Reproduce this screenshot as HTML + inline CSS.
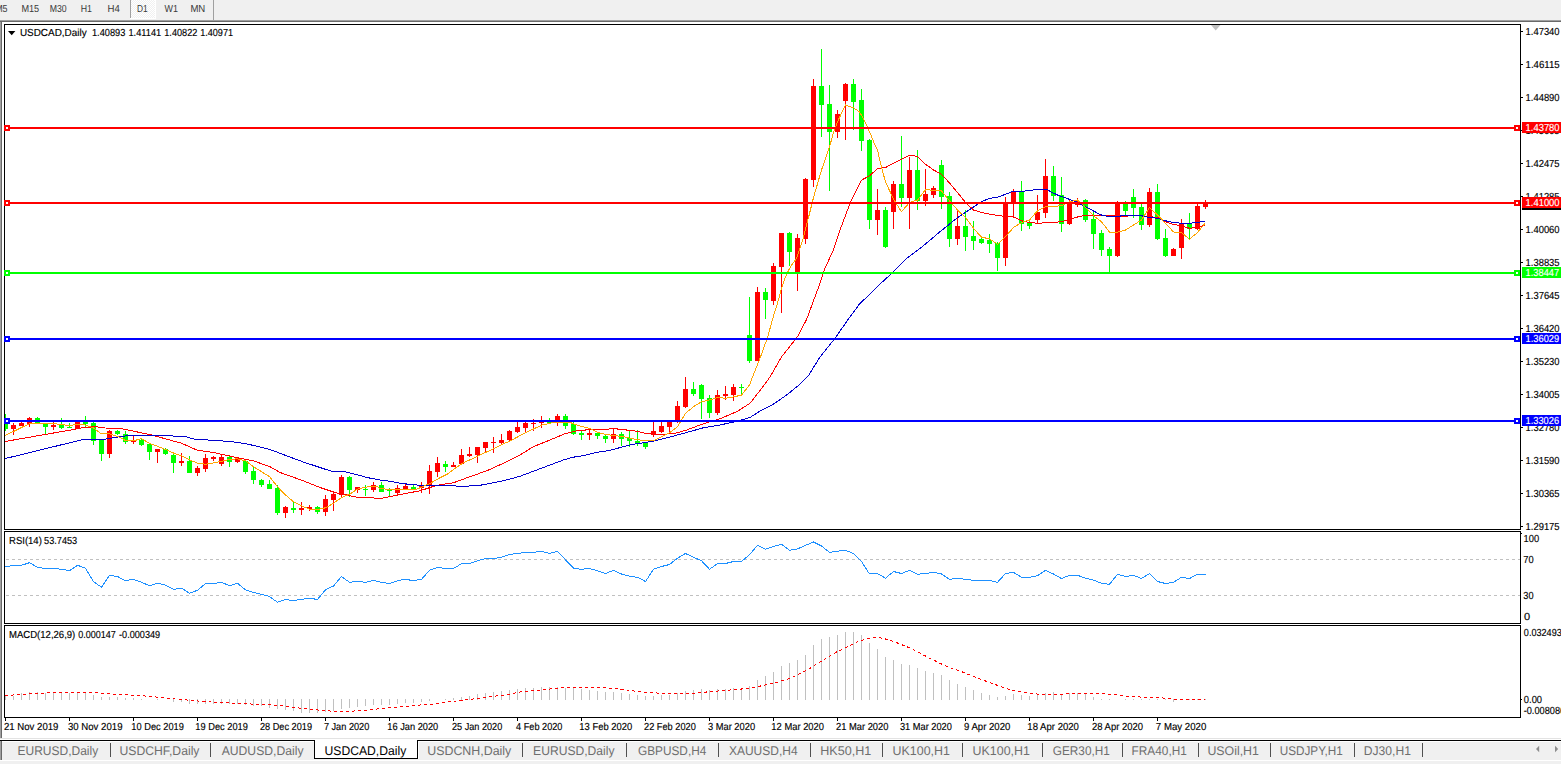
<!DOCTYPE html>
<html><head><meta charset="utf-8"><title>USDCAD,Daily</title>
<style>
html,body{margin:0;padding:0;background:#fff;overflow:hidden}
body{width:1561px;height:764px;font-family:"Liberation Sans",sans-serif}
svg{display:block;font-family:"Liberation Sans",sans-serif}
text{white-space:pre;text-rendering:geometricPrecision}
</style></head><body>
<svg width="1561" height="764" viewBox="0 0 1561 764">
<rect x="0" y="0" width="1561" height="764" fill="#ffffff"/>
<rect x="0" y="0" width="1561" height="20" fill="#f0f0f0"/>
<rect x="0" y="20" width="1561" height="1" fill="#a0a0a0"/>
<rect x="0" y="21" width="1561" height="1" fill="#696969"/>
<rect x="0" y="22" width="1" height="717" fill="#a0a0a0"/>
<rect x="1" y="22" width="1" height="717" fill="#696969"/>
<rect x="130" y="0" width="1" height="18" fill="#a0a0a0"/>
<pattern id="chk" width="2" height="2" patternUnits="userSpaceOnUse"><rect width="2" height="2" fill="#f0f0f0"/><rect width="1" height="1" fill="#fff"/><rect x="1" y="1" width="1" height="1" fill="#fff"/></pattern>
<rect x="131" y="0" width="24" height="18" fill="url(#chk)" shape-rendering="crispEdges"/>
<rect x="155" y="0" width="1" height="19" fill="#fff"/>
<rect x="130" y="18" width="26" height="1" fill="#fff"/>
<rect x="213" y="0" width="1" height="20" fill="#a0a0a0"/>
<text x="-4.80" y="12" font-size="10.2" fill="#3a3a3a" textLength="12.37" lengthAdjust="spacingAndGlyphs">M5</text>
<text x="21.40" y="12" font-size="10.2" fill="#3a3a3a" textLength="17.77" lengthAdjust="spacingAndGlyphs">M15</text>
<text x="49.76" y="12" font-size="10.2" fill="#3a3a3a" textLength="16.96" lengthAdjust="spacingAndGlyphs">M30</text>
<text x="80.66" y="12" font-size="10.2" fill="#3a3a3a" textLength="11.21" lengthAdjust="spacingAndGlyphs">H1</text>
<text x="107.60" y="12" font-size="10.2" fill="#3a3a3a" textLength="12.30" lengthAdjust="spacingAndGlyphs">H4</text>
<text x="137.00" y="12" font-size="10.2" fill="#3a3a3a" textLength="10.70" lengthAdjust="spacingAndGlyphs">D1</text>
<text x="164.59" y="12" font-size="10.2" fill="#3a3a3a" textLength="13.43" lengthAdjust="spacingAndGlyphs">W1</text>
<text x="190.40" y="12" font-size="10.2" fill="#3a3a3a" textLength="14.89" lengthAdjust="spacingAndGlyphs">MN</text>
<rect x="4" y="24" width="1517" height="1" fill="#000"/>
<rect x="4" y="529" width="1517" height="1" fill="#000"/>
<rect x="4" y="24" width="1" height="506" fill="#000"/>
<rect x="1520" y="24" width="1" height="506" fill="#000"/>
<rect x="4" y="531" width="1517" height="1" fill="#000"/>
<rect x="4" y="623" width="1517" height="1" fill="#000"/>
<rect x="4" y="531" width="1" height="93" fill="#000"/>
<rect x="1520" y="531" width="1" height="93" fill="#000"/>
<rect x="4" y="625" width="1517" height="1" fill="#000"/>
<rect x="4" y="717" width="1517" height="1" fill="#000"/>
<rect x="4" y="625" width="1" height="93" fill="#000"/>
<rect x="1520" y="625" width="1" height="93" fill="#000"/>
<polygon points="1211,25 1220.5,25 1215.7,30.5" fill="#c0c0c0"/>
<clipPath id="cm"><rect x="5" y="25" width="1515" height="504"/></clipPath>
<g clip-path="url(#cm)" shape-rendering="crispEdges">
<rect x="5" y="414" width="1" height="17" fill="#00ff00"/>
<rect x="3" y="421" width="5" height="8" fill="#00ff00"/>
<rect x="13" y="423" width="1" height="12" fill="#ff0000"/>
<rect x="11" y="425" width="5" height="4" fill="#ff0000"/>
<rect x="21" y="422" width="1" height="4" fill="#ff0000"/>
<rect x="19" y="423" width="5" height="3" fill="#ff0000"/>
<rect x="29" y="417" width="1" height="10" fill="#ff0000"/>
<rect x="27" y="418" width="5" height="6" fill="#ff0000"/>
<rect x="37" y="417" width="1" height="7" fill="#00ff00"/>
<rect x="35" y="418" width="5" height="6" fill="#00ff00"/>
<rect x="45" y="424" width="1" height="10" fill="#00ff00"/>
<rect x="43" y="424" width="5" height="3" fill="#00ff00"/>
<rect x="53" y="422" width="1" height="8" fill="#ff0000"/>
<rect x="51" y="425" width="5" height="2" fill="#ff0000"/>
<rect x="61" y="418" width="1" height="11" fill="#00ff00"/>
<rect x="59" y="424" width="5" height="4" fill="#00ff00"/>
<rect x="69" y="423" width="1" height="5" fill="#00ff00"/>
<rect x="67" y="427" width="5" height="1" fill="#00ff00"/>
<rect x="77" y="421" width="1" height="8" fill="#ff0000"/>
<rect x="75" y="421" width="5" height="8" fill="#ff0000"/>
<rect x="85" y="416" width="1" height="11" fill="#00ff00"/>
<rect x="83" y="422" width="5" height="2" fill="#00ff00"/>
<rect x="93" y="422" width="1" height="23" fill="#00ff00"/>
<rect x="91" y="423" width="5" height="18" fill="#00ff00"/>
<rect x="101" y="440" width="1" height="21" fill="#00ff00"/>
<rect x="99" y="440" width="5" height="14" fill="#00ff00"/>
<rect x="109" y="430" width="1" height="28" fill="#ff0000"/>
<rect x="107" y="431" width="5" height="23" fill="#ff0000"/>
<rect x="117" y="430" width="1" height="5" fill="#00ff00"/>
<rect x="115" y="431" width="5" height="3" fill="#00ff00"/>
<rect x="125" y="431" width="1" height="13" fill="#00ff00"/>
<rect x="123" y="434" width="5" height="8" fill="#00ff00"/>
<rect x="133" y="436" width="1" height="8" fill="#ff0000"/>
<rect x="131" y="440" width="5" height="2" fill="#ff0000"/>
<rect x="141" y="438" width="1" height="8" fill="#00ff00"/>
<rect x="139" y="440" width="5" height="5" fill="#00ff00"/>
<rect x="149" y="444" width="1" height="16" fill="#00ff00"/>
<rect x="147" y="444" width="5" height="8" fill="#00ff00"/>
<rect x="157" y="449" width="1" height="14" fill="#ff0000"/>
<rect x="155" y="449" width="5" height="3" fill="#ff0000"/>
<rect x="165" y="448" width="1" height="7" fill="#00ff00"/>
<rect x="163" y="449" width="5" height="5" fill="#00ff00"/>
<rect x="173" y="452" width="1" height="21" fill="#00ff00"/>
<rect x="171" y="455" width="5" height="8" fill="#00ff00"/>
<rect x="181" y="453" width="1" height="13" fill="#ff0000"/>
<rect x="179" y="461" width="5" height="2" fill="#ff0000"/>
<rect x="189" y="456" width="1" height="17" fill="#00ff00"/>
<rect x="187" y="461" width="5" height="12" fill="#00ff00"/>
<rect x="197" y="466" width="1" height="10" fill="#ff0000"/>
<rect x="195" y="468" width="5" height="5" fill="#ff0000"/>
<rect x="205" y="454" width="1" height="18" fill="#ff0000"/>
<rect x="203" y="458" width="5" height="11" fill="#ff0000"/>
<rect x="213" y="456" width="1" height="5" fill="#ff0000"/>
<rect x="211" y="457" width="5" height="2" fill="#ff0000"/>
<rect x="221" y="455" width="1" height="11" fill="#ff0000"/>
<rect x="219" y="457" width="5" height="7" fill="#ff0000"/>
<rect x="229" y="456" width="1" height="11" fill="#00ff00"/>
<rect x="227" y="457" width="5" height="5" fill="#00ff00"/>
<rect x="237" y="457" width="1" height="6" fill="#ff0000"/>
<rect x="235" y="458" width="5" height="4" fill="#ff0000"/>
<rect x="245" y="460" width="1" height="14" fill="#00ff00"/>
<rect x="243" y="461" width="5" height="11" fill="#00ff00"/>
<rect x="253" y="467" width="1" height="17" fill="#00ff00"/>
<rect x="251" y="471" width="5" height="9" fill="#00ff00"/>
<rect x="261" y="479" width="1" height="8" fill="#00ff00"/>
<rect x="259" y="480" width="5" height="5" fill="#00ff00"/>
<rect x="269" y="480" width="1" height="9" fill="#00ff00"/>
<rect x="267" y="484" width="5" height="5" fill="#00ff00"/>
<rect x="277" y="485" width="1" height="30" fill="#00ff00"/>
<rect x="275" y="488" width="5" height="25" fill="#00ff00"/>
<rect x="285" y="506" width="1" height="12" fill="#ff0000"/>
<rect x="283" y="507" width="5" height="6" fill="#ff0000"/>
<rect x="293" y="501" width="1" height="12" fill="#00ff00"/>
<rect x="291" y="508" width="5" height="2" fill="#00ff00"/>
<rect x="301" y="502" width="1" height="13" fill="#ff0000"/>
<rect x="299" y="508" width="5" height="2" fill="#ff0000"/>
<rect x="309" y="505" width="1" height="6" fill="#ff0000"/>
<rect x="307" y="507" width="5" height="2" fill="#ff0000"/>
<rect x="317" y="506" width="1" height="8" fill="#00ff00"/>
<rect x="315" y="507" width="5" height="5" fill="#00ff00"/>
<rect x="325" y="495" width="1" height="21" fill="#ff0000"/>
<rect x="323" y="499" width="5" height="13" fill="#ff0000"/>
<rect x="333" y="492" width="1" height="19" fill="#ff0000"/>
<rect x="331" y="494" width="5" height="6" fill="#ff0000"/>
<rect x="341" y="475" width="1" height="23" fill="#ff0000"/>
<rect x="339" y="477" width="5" height="18" fill="#ff0000"/>
<rect x="349" y="476" width="1" height="21" fill="#00ff00"/>
<rect x="347" y="477" width="5" height="13" fill="#00ff00"/>
<rect x="357" y="487" width="1" height="6" fill="#ff0000"/>
<rect x="355" y="487" width="5" height="3" fill="#ff0000"/>
<rect x="365" y="485" width="1" height="11" fill="#00ff00"/>
<rect x="363" y="489" width="5" height="1" fill="#00ff00"/>
<rect x="373" y="482" width="1" height="10" fill="#ff0000"/>
<rect x="371" y="485" width="5" height="5" fill="#ff0000"/>
<rect x="381" y="482" width="1" height="10" fill="#00ff00"/>
<rect x="379" y="485" width="5" height="7" fill="#00ff00"/>
<rect x="389" y="488" width="1" height="8" fill="#00ff00"/>
<rect x="387" y="490" width="5" height="1" fill="#00ff00"/>
<rect x="397" y="485" width="1" height="11" fill="#ff0000"/>
<rect x="395" y="488" width="5" height="5" fill="#ff0000"/>
<rect x="405" y="483" width="1" height="6" fill="#ff0000"/>
<rect x="403" y="486" width="5" height="3" fill="#ff0000"/>
<rect x="413" y="485" width="1" height="5" fill="#00ff00"/>
<rect x="411" y="487" width="5" height="2" fill="#00ff00"/>
<rect x="421" y="482" width="1" height="11" fill="#ff0000"/>
<rect x="419" y="485" width="5" height="3" fill="#ff0000"/>
<rect x="429" y="465" width="1" height="29" fill="#ff0000"/>
<rect x="427" y="471" width="5" height="15" fill="#ff0000"/>
<rect x="437" y="457" width="1" height="20" fill="#ff0000"/>
<rect x="435" y="463" width="5" height="9" fill="#ff0000"/>
<rect x="445" y="461" width="1" height="11" fill="#00ff00"/>
<rect x="443" y="464" width="5" height="3" fill="#00ff00"/>
<rect x="453" y="462" width="1" height="5" fill="#ff0000"/>
<rect x="451" y="465" width="5" height="2" fill="#ff0000"/>
<rect x="461" y="449" width="1" height="15" fill="#ff0000"/>
<rect x="459" y="455" width="5" height="9" fill="#ff0000"/>
<rect x="469" y="447" width="1" height="10" fill="#ff0000"/>
<rect x="467" y="454" width="5" height="2" fill="#ff0000"/>
<rect x="477" y="447" width="1" height="16" fill="#ff0000"/>
<rect x="475" y="447" width="5" height="8" fill="#ff0000"/>
<rect x="485" y="442" width="1" height="10" fill="#ff0000"/>
<rect x="483" y="442" width="5" height="6" fill="#ff0000"/>
<rect x="493" y="437" width="1" height="16" fill="#ff0000"/>
<rect x="491" y="442" width="5" height="1" fill="#ff0000"/>
<rect x="501" y="434" width="1" height="11" fill="#ff0000"/>
<rect x="499" y="440" width="5" height="3" fill="#ff0000"/>
<rect x="509" y="430" width="1" height="11" fill="#ff0000"/>
<rect x="507" y="431" width="5" height="9" fill="#ff0000"/>
<rect x="517" y="422" width="1" height="11" fill="#ff0000"/>
<rect x="515" y="427" width="5" height="5" fill="#ff0000"/>
<rect x="525" y="422" width="1" height="11" fill="#ff0000"/>
<rect x="523" y="423" width="5" height="5" fill="#ff0000"/>
<rect x="533" y="419" width="1" height="12" fill="#ff0000"/>
<rect x="531" y="423" width="5" height="1" fill="#ff0000"/>
<rect x="541" y="416" width="1" height="12" fill="#ff0000"/>
<rect x="539" y="422" width="5" height="1" fill="#ff0000"/>
<rect x="549" y="418" width="1" height="6" fill="#00ff00"/>
<rect x="547" y="420" width="5" height="3" fill="#00ff00"/>
<rect x="557" y="414" width="1" height="12" fill="#ff0000"/>
<rect x="555" y="416" width="5" height="6" fill="#ff0000"/>
<rect x="565" y="414" width="1" height="15" fill="#00ff00"/>
<rect x="563" y="416" width="5" height="10" fill="#00ff00"/>
<rect x="573" y="422" width="1" height="13" fill="#00ff00"/>
<rect x="571" y="424" width="5" height="10" fill="#00ff00"/>
<rect x="581" y="431" width="1" height="9" fill="#00ff00"/>
<rect x="579" y="433" width="5" height="2" fill="#00ff00"/>
<rect x="589" y="428" width="1" height="12" fill="#ff0000"/>
<rect x="587" y="433" width="5" height="2" fill="#ff0000"/>
<rect x="597" y="432" width="1" height="7" fill="#00ff00"/>
<rect x="595" y="433" width="5" height="3" fill="#00ff00"/>
<rect x="605" y="435" width="1" height="8" fill="#00ff00"/>
<rect x="603" y="436" width="5" height="3" fill="#00ff00"/>
<rect x="613" y="428" width="1" height="15" fill="#ff0000"/>
<rect x="611" y="434" width="5" height="5" fill="#ff0000"/>
<rect x="621" y="432" width="1" height="14" fill="#00ff00"/>
<rect x="619" y="434" width="5" height="5" fill="#00ff00"/>
<rect x="629" y="431" width="1" height="16" fill="#00ff00"/>
<rect x="627" y="438" width="5" height="3" fill="#00ff00"/>
<rect x="637" y="430" width="1" height="16" fill="#00ff00"/>
<rect x="635" y="441" width="5" height="2" fill="#00ff00"/>
<rect x="645" y="442" width="1" height="7" fill="#00ff00"/>
<rect x="643" y="443" width="5" height="4" fill="#00ff00"/>
<rect x="653" y="422" width="1" height="15" fill="#ff0000"/>
<rect x="651" y="431" width="5" height="4" fill="#ff0000"/>
<rect x="661" y="422" width="1" height="11" fill="#ff0000"/>
<rect x="659" y="426" width="5" height="6" fill="#ff0000"/>
<rect x="669" y="420" width="1" height="12" fill="#ff0000"/>
<rect x="667" y="421" width="5" height="6" fill="#ff0000"/>
<rect x="677" y="401" width="1" height="22" fill="#ff0000"/>
<rect x="675" y="406" width="5" height="16" fill="#ff0000"/>
<rect x="685" y="377" width="1" height="31" fill="#ff0000"/>
<rect x="683" y="389" width="5" height="18" fill="#ff0000"/>
<rect x="693" y="382" width="1" height="14" fill="#00ff00"/>
<rect x="691" y="389" width="5" height="5" fill="#00ff00"/>
<rect x="701" y="384" width="1" height="35" fill="#00ff00"/>
<rect x="699" y="385" width="5" height="14" fill="#00ff00"/>
<rect x="709" y="395" width="1" height="23" fill="#00ff00"/>
<rect x="707" y="398" width="5" height="15" fill="#00ff00"/>
<rect x="717" y="390" width="1" height="25" fill="#ff0000"/>
<rect x="715" y="395" width="5" height="18" fill="#ff0000"/>
<rect x="725" y="386" width="1" height="14" fill="#ff0000"/>
<rect x="723" y="394" width="5" height="2" fill="#ff0000"/>
<rect x="733" y="384" width="1" height="17" fill="#ff0000"/>
<rect x="731" y="387" width="5" height="8" fill="#ff0000"/>
<rect x="741" y="384" width="1" height="10" fill="#00ff00"/>
<rect x="739" y="387" width="5" height="1" fill="#00ff00"/>
<rect x="749" y="297" width="1" height="66" fill="#00ff00"/>
<rect x="747" y="335" width="5" height="26" fill="#00ff00"/>
<rect x="757" y="287" width="1" height="74" fill="#ff0000"/>
<rect x="755" y="292" width="5" height="69" fill="#ff0000"/>
<rect x="765" y="288" width="1" height="31" fill="#00ff00"/>
<rect x="763" y="292" width="5" height="8" fill="#00ff00"/>
<rect x="773" y="263" width="1" height="42" fill="#ff0000"/>
<rect x="771" y="266" width="5" height="35" fill="#ff0000"/>
<rect x="781" y="233" width="1" height="80" fill="#ff0000"/>
<rect x="779" y="233" width="5" height="34" fill="#ff0000"/>
<rect x="789" y="232" width="1" height="34" fill="#00ff00"/>
<rect x="787" y="233" width="5" height="19" fill="#00ff00"/>
<rect x="797" y="234" width="1" height="57" fill="#ff0000"/>
<rect x="795" y="238" width="5" height="35" fill="#ff0000"/>
<rect x="805" y="178" width="1" height="66" fill="#ff0000"/>
<rect x="803" y="179" width="5" height="60" fill="#ff0000"/>
<rect x="813" y="79" width="1" height="108" fill="#ff0000"/>
<rect x="811" y="86" width="5" height="94" fill="#ff0000"/>
<rect x="821" y="49" width="1" height="88" fill="#00ff00"/>
<rect x="819" y="86" width="5" height="19" fill="#00ff00"/>
<rect x="829" y="85" width="1" height="106" fill="#00ff00"/>
<rect x="827" y="104" width="5" height="28" fill="#00ff00"/>
<rect x="837" y="110" width="1" height="28" fill="#ff0000"/>
<rect x="835" y="114" width="5" height="18" fill="#ff0000"/>
<rect x="845" y="83" width="1" height="57" fill="#ff0000"/>
<rect x="843" y="84" width="5" height="17" fill="#ff0000"/>
<rect x="853" y="79" width="1" height="51" fill="#00ff00"/>
<rect x="851" y="84" width="5" height="18" fill="#00ff00"/>
<rect x="861" y="89" width="1" height="62" fill="#00ff00"/>
<rect x="859" y="100" width="5" height="41" fill="#00ff00"/>
<rect x="869" y="139" width="1" height="90" fill="#00ff00"/>
<rect x="867" y="140" width="5" height="80" fill="#00ff00"/>
<rect x="877" y="189" width="1" height="46" fill="#ff0000"/>
<rect x="875" y="210" width="5" height="10" fill="#ff0000"/>
<rect x="885" y="207" width="1" height="41" fill="#00ff00"/>
<rect x="883" y="210" width="5" height="37" fill="#00ff00"/>
<rect x="893" y="181" width="1" height="48" fill="#ff0000"/>
<rect x="891" y="184" width="5" height="28" fill="#ff0000"/>
<rect x="901" y="136" width="1" height="71" fill="#00ff00"/>
<rect x="899" y="184" width="5" height="14" fill="#00ff00"/>
<rect x="909" y="157" width="1" height="72" fill="#ff0000"/>
<rect x="907" y="170" width="5" height="28" fill="#ff0000"/>
<rect x="917" y="150" width="1" height="60" fill="#00ff00"/>
<rect x="915" y="170" width="5" height="31" fill="#00ff00"/>
<rect x="925" y="169" width="1" height="37" fill="#ff0000"/>
<rect x="923" y="194" width="5" height="7" fill="#ff0000"/>
<rect x="933" y="186" width="1" height="12" fill="#ff0000"/>
<rect x="931" y="188" width="5" height="7" fill="#ff0000"/>
<rect x="941" y="160" width="1" height="49" fill="#00ff00"/>
<rect x="939" y="165" width="5" height="32" fill="#00ff00"/>
<rect x="949" y="192" width="1" height="55" fill="#00ff00"/>
<rect x="947" y="196" width="5" height="43" fill="#00ff00"/>
<rect x="957" y="210" width="1" height="35" fill="#ff0000"/>
<rect x="955" y="226" width="5" height="13" fill="#ff0000"/>
<rect x="965" y="210" width="1" height="41" fill="#00ff00"/>
<rect x="963" y="226" width="5" height="11" fill="#00ff00"/>
<rect x="973" y="221" width="1" height="29" fill="#00ff00"/>
<rect x="971" y="236" width="5" height="5" fill="#00ff00"/>
<rect x="981" y="238" width="1" height="6" fill="#00ff00"/>
<rect x="979" y="239" width="5" height="4" fill="#00ff00"/>
<rect x="989" y="234" width="1" height="19" fill="#00ff00"/>
<rect x="987" y="240" width="5" height="4" fill="#00ff00"/>
<rect x="997" y="242" width="1" height="29" fill="#00ff00"/>
<rect x="995" y="243" width="5" height="15" fill="#00ff00"/>
<rect x="1005" y="197" width="1" height="69" fill="#ff0000"/>
<rect x="1003" y="203" width="5" height="55" fill="#ff0000"/>
<rect x="1013" y="189" width="1" height="29" fill="#ff0000"/>
<rect x="1011" y="192" width="5" height="12" fill="#ff0000"/>
<rect x="1021" y="181" width="1" height="50" fill="#00ff00"/>
<rect x="1019" y="192" width="5" height="32" fill="#00ff00"/>
<rect x="1029" y="221" width="1" height="8" fill="#00ff00"/>
<rect x="1027" y="223" width="5" height="3" fill="#00ff00"/>
<rect x="1037" y="195" width="1" height="29" fill="#ff0000"/>
<rect x="1035" y="212" width="5" height="8" fill="#ff0000"/>
<rect x="1045" y="159" width="1" height="59" fill="#ff0000"/>
<rect x="1043" y="176" width="5" height="37" fill="#ff0000"/>
<rect x="1053" y="166" width="1" height="35" fill="#00ff00"/>
<rect x="1051" y="176" width="5" height="20" fill="#00ff00"/>
<rect x="1061" y="177" width="1" height="55" fill="#00ff00"/>
<rect x="1059" y="195" width="5" height="29" fill="#00ff00"/>
<rect x="1069" y="200" width="1" height="25" fill="#ff0000"/>
<rect x="1067" y="203" width="5" height="21" fill="#ff0000"/>
<rect x="1077" y="198" width="1" height="9" fill="#ff0000"/>
<rect x="1075" y="201" width="5" height="4" fill="#ff0000"/>
<rect x="1085" y="199" width="1" height="23" fill="#00ff00"/>
<rect x="1083" y="200" width="5" height="20" fill="#00ff00"/>
<rect x="1093" y="212" width="1" height="37" fill="#00ff00"/>
<rect x="1091" y="219" width="5" height="15" fill="#00ff00"/>
<rect x="1101" y="230" width="1" height="26" fill="#00ff00"/>
<rect x="1099" y="233" width="5" height="17" fill="#00ff00"/>
<rect x="1109" y="247" width="1" height="26" fill="#00ff00"/>
<rect x="1107" y="249" width="5" height="7" fill="#00ff00"/>
<rect x="1117" y="201" width="1" height="56" fill="#ff0000"/>
<rect x="1115" y="203" width="5" height="53" fill="#ff0000"/>
<rect x="1125" y="201" width="1" height="14" fill="#00ff00"/>
<rect x="1123" y="204" width="5" height="7" fill="#00ff00"/>
<rect x="1133" y="189" width="1" height="29" fill="#00ff00"/>
<rect x="1131" y="197" width="5" height="11" fill="#00ff00"/>
<rect x="1141" y="204" width="1" height="26" fill="#00ff00"/>
<rect x="1139" y="207" width="5" height="18" fill="#00ff00"/>
<rect x="1149" y="188" width="1" height="39" fill="#ff0000"/>
<rect x="1147" y="192" width="5" height="33" fill="#ff0000"/>
<rect x="1157" y="184" width="1" height="56" fill="#00ff00"/>
<rect x="1155" y="192" width="5" height="47" fill="#00ff00"/>
<rect x="1165" y="229" width="1" height="28" fill="#00ff00"/>
<rect x="1163" y="238" width="5" height="18" fill="#00ff00"/>
<rect x="1173" y="248" width="1" height="8" fill="#ff0000"/>
<rect x="1171" y="249" width="5" height="7" fill="#ff0000"/>
<rect x="1181" y="219" width="1" height="40" fill="#ff0000"/>
<rect x="1179" y="223" width="5" height="25" fill="#ff0000"/>
<rect x="1189" y="213" width="1" height="27" fill="#00ff00"/>
<rect x="1187" y="223" width="5" height="6" fill="#00ff00"/>
<rect x="1197" y="204" width="1" height="26" fill="#ff0000"/>
<rect x="1195" y="206" width="5" height="23" fill="#ff0000"/>
<rect x="1205" y="200" width="1" height="9" fill="#ff0000"/>
<rect x="1203" y="202" width="5" height="5" fill="#ff0000"/>
<polyline points="5.0,441.5 77.0,428.9 85.0,427.2 97.0,426.8 105.0,428.0 120.0,428.3 151.7,435.0 181.7,443.3 196.7,450.0 213.3,452.5 236.7,457.5 253.3,460.8 270.0,466.7 280.0,472.5 303.3,480.8 320.0,487.5 335.0,492.5 356.7,497.2 370.0,497.5 380.0,498.7 397.5,495.0 420.0,490.8 436.7,485.3 453.3,482.8 470.0,476.7 486.7,470.8 503.3,463.3 520.0,455.0 533.3,446.7 550.0,440.0 565.0,433.7 578.7,430.4 585.0,430.4 586.0,429.4 608.5,429.4 609.5,428.5 617.3,428.5 618.0,429.4 626.0,429.4 627.0,430.4 632.0,430.7 636.7,431.2 645.0,433.3 661.7,434.5 675.0,433.3 686.7,430.0 703.3,423.8 720.0,418.7 736.7,411.7 750.0,403.3 761.7,388.3 770.0,377.0 781.7,356.7 797.5,336.7 806.7,319.2 815.0,296.7 820.0,283.3 825.0,268.3 833.3,250.0 840.0,230.0 850.0,203.3 861.7,180.0 869.5,175.8 877.5,168.7 885.5,167.5 893.5,163.3 901.5,159.2 909.5,155.3 917.5,156.3 925.5,164.2 933.5,170.0 941.5,174.2 949.5,183.0 957.5,192.5 965.5,202.5 973.5,210.0 981.5,212.5 989.5,214.2 997.5,215.3 1005.5,216.7 1013.5,216.7 1021.5,220.8 1029.5,222.5 1037.5,223.3 1045.5,222.8 1053.5,222.5 1061.5,221.7 1069.5,219.2 1077.5,217.0 1085.5,215.3 1109.5,215.3 1117.5,215.8 1125.5,216.3 1133.5,215.5 1141.5,215.8 1149.5,216.7 1157.5,217.5 1165.5,221.7 1173.5,224.5 1181.5,225.8 1189.5,228.3 1197.5,227.5 1204.9,225.2" fill="none" stroke="#ff0000" stroke-width="1"/>
<polyline points="5.0,458.6 83.5,439.4 104.0,439.3 120.0,436.7 128.3,435.5 169.0,435.5 177.8,436.5 187.0,437.0 192.0,438.5 196.0,439.7 203.0,439.7 218.0,440.7 230.0,441.5 238.0,442.6 245.0,443.6 250.0,444.7 254.0,445.5 258.0,446.6 270.0,449.5 286.7,455.8 303.3,462.0 320.0,467.5 326.0,469.5 332.0,471.3 343.8,471.3 348.0,472.5 352.0,473.4 356.0,474.4 360.0,475.5 364.0,476.5 367.0,477.6 372.0,478.4 377.5,479.4 382.0,480.5 386.7,480.8 403.3,483.7 420.0,485.3 450.0,485.8 465.0,486.3 480.0,485.3 503.3,480.8 520.0,476.3 536.7,470.0 553.3,463.8 563.6,459.9 572.0,457.4 580.4,456.1 588.8,454.4 597.1,452.3 605.5,451.1 613.9,449.4 622.3,446.9 630.6,444.8 636.7,443.8 653.3,441.2 670.0,437.0 686.7,432.5 703.3,427.8 720.0,425.0 736.7,421.3 750.0,417.5 761.7,410.0 773.3,404.2 786.7,395.0 800.0,384.2 808.3,375.8 820.0,357.0 835.0,338.3 848.3,319.2 860.0,303.3 866.7,297.2 881.7,282.5 890.0,275.0 898.3,266.7 906.7,258.3 923.3,245.8 940.0,231.7 956.7,218.3 973.3,207.2 981.7,201.7 989.5,198.3 997.5,197.2 1000.0,196.6 1005.0,194.3 1011.7,191.9 1013.0,191.3 1024.5,191.3 1025.5,190.3 1032.5,190.3 1033.5,189.4 1046.9,189.4 1050.0,191.4 1058.6,195.5 1067.0,198.5 1075.4,201.4 1083.8,206.0 1092.1,210.2 1100.5,214.8 1106.4,216.0 1120.6,216.0 1121.5,215.5 1133.5,215.3 1141.5,215.8 1149.5,217.5 1157.5,218.3 1165.5,220.8 1173.5,222.5 1181.5,223.3 1189.5,223.3 1197.5,222.2 1204.9,221.7" fill="none" stroke="#0000cd" stroke-width="1"/>
<polyline points="5.0,435.6 29.0,423.9 57.0,424.0 69.0,425.5 82.0,424.0 93.0,427.6 101.0,433.5 109.0,433.5 120.0,437.5 125.5,440.6 133.5,440.8 141.5,438.7 149.5,443.3 157.5,446.3 165.5,449.5 173.5,453.0 181.5,455.8 189.5,459.7 197.5,463.3 205.5,464.2 213.5,463.0 221.5,461.3 229.5,459.5 237.5,458.8 245.5,460.8 253.5,466.7 261.5,471.7 269.5,476.7 277.5,486.7 285.5,495.0 293.5,501.7 301.5,505.8 309.5,509.2 317.5,509.5 325.5,507.8 333.5,503.3 341.5,497.5 349.5,494.2 357.5,489.2 363.9,487.6 369.7,486.6 377.3,486.6 380.0,488.5 386.7,489.2 403.3,489.2 416.7,489.2 430.3,483.3 438.6,478.5 447.0,474.3 455.4,468.1 463.8,462.6 472.1,458.8 480.5,454.7 488.9,450.9 497.3,446.7 505.6,442.9 509.5,441.2 525.5,432.8 541.5,425.2 553.3,422.5 570.0,422.5 580.4,426.1 588.8,428.1 597.1,432.2 605.5,434.3 613.9,435.6 622.3,436.4 630.6,438.5 645.0,440.8 653.3,440.8 661.7,436.7 670.0,432.5 677.5,426.7 685.5,413.3 693.5,406.7 701.5,401.7 709.5,400.0 717.5,397.5 725.5,398.3 733.5,397.0 741.5,395.0 749.5,385.0 752.5,377.0 760.0,358.3 767.5,337.5 773.3,316.7 777.5,303.3 781.7,287.5 785.0,278.3 788.3,270.8 791.7,265.0 796.7,258.3 803.3,238.3 808.3,218.3 813.3,198.3 821.5,170.0 829.5,147.0 833.3,133.3 837.5,121.7 845.5,105.0 853.5,107.8 859.2,111.7 863.3,118.3 869.5,131.7 875.0,145.0 877.5,150.0 881.7,168.3 885.5,181.7 893.5,199.2 901.5,211.7 909.5,202.5 917.5,200.0 925.5,189.7 933.5,190.3 941.5,190.8 949.5,200.8 957.5,210.0 965.5,217.5 973.5,228.3 981.5,237.2 989.5,238.8 997.5,244.2 1005.5,236.7 1013.5,227.5 1021.5,222.5 1029.5,220.0 1037.5,210.8 1045.5,206.7 1053.5,206.3 1061.5,205.8 1069.5,201.7 1077.5,200.0 1085.5,207.5 1093.5,215.8 1101.5,221.7 1109.5,232.2 1117.5,232.2 1125.5,230.0 1133.5,225.0 1141.5,220.0 1149.5,207.5 1157.5,215.0 1165.5,223.3 1173.5,232.0 1181.5,232.5 1189.5,239.2 1197.5,232.5 1204.9,223.6" fill="none" stroke="#ffa500" stroke-width="1"/>
<rect x="5" y="127" width="1515" height="2" fill="#ff0000"/>
<rect x="5" y="202" width="1515" height="2" fill="#ff0000"/>
<rect x="5" y="272" width="1515" height="2" fill="#00ff00"/>
<rect x="5" y="338" width="1515" height="2" fill="#0000ff"/>
<rect x="5" y="420" width="1515" height="2" fill="#0000ff"/>
</g>
<rect x="4" y="125" width="6" height="6" fill="#ff0000"/>
<rect x="6" y="127" width="2" height="2" fill="#fff"/>
<rect x="1514" y="125" width="6" height="6" fill="#ff0000"/>
<rect x="1516" y="127" width="2" height="2" fill="#fff"/>
<rect x="4" y="200" width="6" height="6" fill="#ff0000"/>
<rect x="6" y="202" width="2" height="2" fill="#fff"/>
<rect x="1514" y="200" width="6" height="6" fill="#ff0000"/>
<rect x="1516" y="202" width="2" height="2" fill="#fff"/>
<rect x="4" y="270" width="6" height="6" fill="#00ff00"/>
<rect x="6" y="272" width="2" height="2" fill="#fff"/>
<rect x="1514" y="270" width="6" height="6" fill="#00ff00"/>
<rect x="1516" y="272" width="2" height="2" fill="#fff"/>
<rect x="4" y="336" width="6" height="6" fill="#0000ff"/>
<rect x="6" y="338" width="2" height="2" fill="#fff"/>
<rect x="1514" y="336" width="6" height="6" fill="#0000ff"/>
<rect x="1516" y="338" width="2" height="2" fill="#fff"/>
<rect x="4" y="418" width="6" height="6" fill="#0000ff"/>
<rect x="6" y="420" width="2" height="2" fill="#fff"/>
<rect x="1514" y="418" width="6" height="6" fill="#0000ff"/>
<rect x="1516" y="420" width="2" height="2" fill="#fff"/>
<polygon points="8,31 15.4,31 11.7,35.2" fill="#000"/>
<text x="19.94" y="35.9" font-size="10.2" fill="#000" stroke="#000" stroke-width="0.15" textLength="66.66" lengthAdjust="spacingAndGlyphs">USDCAD,Daily</text>
<text x="91.97" y="35.9" font-size="10.2" fill="#000" stroke="#000" stroke-width="0.15" textLength="33.40" lengthAdjust="spacingAndGlyphs">1.40893</text>
<text x="128.47" y="35.9" font-size="10.2" fill="#000" stroke="#000" stroke-width="0.15" textLength="32.74" lengthAdjust="spacingAndGlyphs">1.41141</text>
<text x="164.27" y="35.9" font-size="10.2" fill="#000" stroke="#000" stroke-width="0.15" textLength="33.09" lengthAdjust="spacingAndGlyphs">1.40822</text>
<text x="200.17" y="35.9" font-size="10.2" fill="#000" stroke="#000" stroke-width="0.15" textLength="32.88" lengthAdjust="spacingAndGlyphs">1.40971</text>
<rect x="1521" y="31" width="2" height="1" fill="#000"/>
<text x="1525.57" y="35" font-size="10.2" fill="#000" stroke="#000" stroke-width="0.15" textLength="34.03" lengthAdjust="spacingAndGlyphs">1.47340</text>
<rect x="1521" y="64" width="2" height="1" fill="#000"/>
<text x="1525.54" y="68" font-size="10.2" fill="#000" stroke="#000" stroke-width="0.15" textLength="34.15" lengthAdjust="spacingAndGlyphs">1.46115</text>
<rect x="1521" y="97" width="2" height="1" fill="#000"/>
<text x="1525.57" y="101" font-size="10.2" fill="#000" stroke="#000" stroke-width="0.15" textLength="34.03" lengthAdjust="spacingAndGlyphs">1.44890</text>
<rect x="1521" y="130" width="2" height="1" fill="#000"/>
<text x="1525.57" y="134" font-size="10.2" fill="#000" stroke="#000" stroke-width="0.15" textLength="34.03" lengthAdjust="spacingAndGlyphs">1.43665</text>
<rect x="1521" y="163" width="2" height="1" fill="#000"/>
<text x="1525.57" y="167" font-size="10.2" fill="#000" stroke="#000" stroke-width="0.15" textLength="34.03" lengthAdjust="spacingAndGlyphs">1.42475</text>
<rect x="1521" y="196" width="2" height="1" fill="#000"/>
<text x="1525.57" y="200" font-size="10.2" fill="#000" stroke="#000" stroke-width="0.15" textLength="34.03" lengthAdjust="spacingAndGlyphs">1.41285</text>
<rect x="1521" y="229" width="2" height="1" fill="#000"/>
<text x="1525.57" y="233" font-size="10.2" fill="#000" stroke="#000" stroke-width="0.15" textLength="34.03" lengthAdjust="spacingAndGlyphs">1.40060</text>
<rect x="1521" y="262" width="2" height="1" fill="#000"/>
<text x="1525.57" y="266" font-size="10.2" fill="#000" stroke="#000" stroke-width="0.15" textLength="34.03" lengthAdjust="spacingAndGlyphs">1.38835</text>
<rect x="1521" y="295" width="2" height="1" fill="#000"/>
<text x="1525.57" y="299" font-size="10.2" fill="#000" stroke="#000" stroke-width="0.15" textLength="34.03" lengthAdjust="spacingAndGlyphs">1.37645</text>
<rect x="1521" y="328" width="2" height="1" fill="#000"/>
<text x="1525.57" y="332" font-size="10.2" fill="#000" stroke="#000" stroke-width="0.15" textLength="34.03" lengthAdjust="spacingAndGlyphs">1.36420</text>
<rect x="1521" y="361" width="2" height="1" fill="#000"/>
<text x="1525.57" y="365" font-size="10.2" fill="#000" stroke="#000" stroke-width="0.15" textLength="34.03" lengthAdjust="spacingAndGlyphs">1.35230</text>
<rect x="1521" y="394" width="2" height="1" fill="#000"/>
<text x="1525.57" y="398" font-size="10.2" fill="#000" stroke="#000" stroke-width="0.15" textLength="34.03" lengthAdjust="spacingAndGlyphs">1.34005</text>
<rect x="1521" y="427" width="2" height="1" fill="#000"/>
<text x="1525.57" y="431" font-size="10.2" fill="#000" stroke="#000" stroke-width="0.15" textLength="34.03" lengthAdjust="spacingAndGlyphs">1.32780</text>
<rect x="1521" y="460" width="2" height="1" fill="#000"/>
<text x="1525.57" y="464" font-size="10.2" fill="#000" stroke="#000" stroke-width="0.15" textLength="34.03" lengthAdjust="spacingAndGlyphs">1.31590</text>
<rect x="1521" y="493" width="2" height="1" fill="#000"/>
<text x="1525.57" y="497" font-size="10.2" fill="#000" stroke="#000" stroke-width="0.15" textLength="34.03" lengthAdjust="spacingAndGlyphs">1.30365</text>
<rect x="1521" y="526" width="2" height="1" fill="#000"/>
<text x="1525.57" y="530" font-size="10.2" fill="#000" stroke="#000" stroke-width="0.15" textLength="34.03" lengthAdjust="spacingAndGlyphs">1.29175</text>
<rect x="1522" y="199" width="39" height="11" fill="#000"/>
<rect x="1522" y="122" width="39" height="11" fill="#ff0000"/>
<text x="1525.57" y="131" font-size="10.2" fill="#fff" stroke="#fff" stroke-width="0.15" textLength="34.03" lengthAdjust="spacingAndGlyphs">1.43780</text>
<rect x="1522" y="197" width="39" height="11" fill="#ff0000"/>
<text x="1525.57" y="206" font-size="10.2" fill="#fff" stroke="#fff" stroke-width="0.15" textLength="34.03" lengthAdjust="spacingAndGlyphs">1.41000</text>
<rect x="1522" y="267" width="39" height="11" fill="#00ff00"/>
<text x="1525.57" y="276" font-size="10.2" fill="#fff" stroke="#fff" stroke-width="0.15" textLength="33.57" lengthAdjust="spacingAndGlyphs">1.38447</text>
<rect x="1522" y="333" width="39" height="11" fill="#0000ff"/>
<text x="1525.57" y="342" font-size="10.2" fill="#fff" stroke="#fff" stroke-width="0.15" textLength="33.58" lengthAdjust="spacingAndGlyphs">1.36029</text>
<rect x="1522" y="415" width="39" height="11" fill="#0000ff"/>
<text x="1525.57" y="424" font-size="10.2" fill="#fff" stroke="#fff" stroke-width="0.15" textLength="33.51" lengthAdjust="spacingAndGlyphs">1.33026</text>
<g shape-rendering="crispEdges">
<rect x="6" y="559" width="3" height="1" fill="#c0c0c0"/>
<rect x="12" y="559" width="3" height="1" fill="#c0c0c0"/>
<rect x="18" y="559" width="3" height="1" fill="#c0c0c0"/>
<rect x="24" y="559" width="3" height="1" fill="#c0c0c0"/>
<rect x="30" y="559" width="3" height="1" fill="#c0c0c0"/>
<rect x="36" y="559" width="3" height="1" fill="#c0c0c0"/>
<rect x="42" y="559" width="3" height="1" fill="#c0c0c0"/>
<rect x="48" y="559" width="3" height="1" fill="#c0c0c0"/>
<rect x="54" y="559" width="3" height="1" fill="#c0c0c0"/>
<rect x="60" y="559" width="3" height="1" fill="#c0c0c0"/>
<rect x="66" y="559" width="3" height="1" fill="#c0c0c0"/>
<rect x="72" y="559" width="3" height="1" fill="#c0c0c0"/>
<rect x="78" y="559" width="3" height="1" fill="#c0c0c0"/>
<rect x="84" y="559" width="3" height="1" fill="#c0c0c0"/>
<rect x="90" y="559" width="3" height="1" fill="#c0c0c0"/>
<rect x="96" y="559" width="3" height="1" fill="#c0c0c0"/>
<rect x="102" y="559" width="3" height="1" fill="#c0c0c0"/>
<rect x="108" y="559" width="3" height="1" fill="#c0c0c0"/>
<rect x="114" y="559" width="3" height="1" fill="#c0c0c0"/>
<rect x="120" y="559" width="3" height="1" fill="#c0c0c0"/>
<rect x="126" y="559" width="3" height="1" fill="#c0c0c0"/>
<rect x="132" y="559" width="3" height="1" fill="#c0c0c0"/>
<rect x="138" y="559" width="3" height="1" fill="#c0c0c0"/>
<rect x="144" y="559" width="3" height="1" fill="#c0c0c0"/>
<rect x="150" y="559" width="3" height="1" fill="#c0c0c0"/>
<rect x="156" y="559" width="3" height="1" fill="#c0c0c0"/>
<rect x="162" y="559" width="3" height="1" fill="#c0c0c0"/>
<rect x="168" y="559" width="3" height="1" fill="#c0c0c0"/>
<rect x="174" y="559" width="3" height="1" fill="#c0c0c0"/>
<rect x="180" y="559" width="3" height="1" fill="#c0c0c0"/>
<rect x="186" y="559" width="3" height="1" fill="#c0c0c0"/>
<rect x="192" y="559" width="3" height="1" fill="#c0c0c0"/>
<rect x="198" y="559" width="3" height="1" fill="#c0c0c0"/>
<rect x="204" y="559" width="3" height="1" fill="#c0c0c0"/>
<rect x="210" y="559" width="3" height="1" fill="#c0c0c0"/>
<rect x="216" y="559" width="3" height="1" fill="#c0c0c0"/>
<rect x="222" y="559" width="3" height="1" fill="#c0c0c0"/>
<rect x="228" y="559" width="3" height="1" fill="#c0c0c0"/>
<rect x="234" y="559" width="3" height="1" fill="#c0c0c0"/>
<rect x="240" y="559" width="3" height="1" fill="#c0c0c0"/>
<rect x="246" y="559" width="3" height="1" fill="#c0c0c0"/>
<rect x="252" y="559" width="3" height="1" fill="#c0c0c0"/>
<rect x="258" y="559" width="3" height="1" fill="#c0c0c0"/>
<rect x="264" y="559" width="3" height="1" fill="#c0c0c0"/>
<rect x="270" y="559" width="3" height="1" fill="#c0c0c0"/>
<rect x="276" y="559" width="3" height="1" fill="#c0c0c0"/>
<rect x="282" y="559" width="3" height="1" fill="#c0c0c0"/>
<rect x="288" y="559" width="3" height="1" fill="#c0c0c0"/>
<rect x="294" y="559" width="3" height="1" fill="#c0c0c0"/>
<rect x="300" y="559" width="3" height="1" fill="#c0c0c0"/>
<rect x="306" y="559" width="3" height="1" fill="#c0c0c0"/>
<rect x="312" y="559" width="3" height="1" fill="#c0c0c0"/>
<rect x="318" y="559" width="3" height="1" fill="#c0c0c0"/>
<rect x="324" y="559" width="3" height="1" fill="#c0c0c0"/>
<rect x="330" y="559" width="3" height="1" fill="#c0c0c0"/>
<rect x="336" y="559" width="3" height="1" fill="#c0c0c0"/>
<rect x="342" y="559" width="3" height="1" fill="#c0c0c0"/>
<rect x="348" y="559" width="3" height="1" fill="#c0c0c0"/>
<rect x="354" y="559" width="3" height="1" fill="#c0c0c0"/>
<rect x="360" y="559" width="3" height="1" fill="#c0c0c0"/>
<rect x="366" y="559" width="3" height="1" fill="#c0c0c0"/>
<rect x="372" y="559" width="3" height="1" fill="#c0c0c0"/>
<rect x="378" y="559" width="3" height="1" fill="#c0c0c0"/>
<rect x="384" y="559" width="3" height="1" fill="#c0c0c0"/>
<rect x="390" y="559" width="3" height="1" fill="#c0c0c0"/>
<rect x="396" y="559" width="3" height="1" fill="#c0c0c0"/>
<rect x="402" y="559" width="3" height="1" fill="#c0c0c0"/>
<rect x="408" y="559" width="3" height="1" fill="#c0c0c0"/>
<rect x="414" y="559" width="3" height="1" fill="#c0c0c0"/>
<rect x="420" y="559" width="3" height="1" fill="#c0c0c0"/>
<rect x="426" y="559" width="3" height="1" fill="#c0c0c0"/>
<rect x="432" y="559" width="3" height="1" fill="#c0c0c0"/>
<rect x="438" y="559" width="3" height="1" fill="#c0c0c0"/>
<rect x="444" y="559" width="3" height="1" fill="#c0c0c0"/>
<rect x="450" y="559" width="3" height="1" fill="#c0c0c0"/>
<rect x="456" y="559" width="3" height="1" fill="#c0c0c0"/>
<rect x="462" y="559" width="3" height="1" fill="#c0c0c0"/>
<rect x="468" y="559" width="3" height="1" fill="#c0c0c0"/>
<rect x="474" y="559" width="3" height="1" fill="#c0c0c0"/>
<rect x="480" y="559" width="3" height="1" fill="#c0c0c0"/>
<rect x="486" y="559" width="3" height="1" fill="#c0c0c0"/>
<rect x="492" y="559" width="3" height="1" fill="#c0c0c0"/>
<rect x="498" y="559" width="3" height="1" fill="#c0c0c0"/>
<rect x="504" y="559" width="3" height="1" fill="#c0c0c0"/>
<rect x="510" y="559" width="3" height="1" fill="#c0c0c0"/>
<rect x="516" y="559" width="3" height="1" fill="#c0c0c0"/>
<rect x="522" y="559" width="3" height="1" fill="#c0c0c0"/>
<rect x="528" y="559" width="3" height="1" fill="#c0c0c0"/>
<rect x="534" y="559" width="3" height="1" fill="#c0c0c0"/>
<rect x="540" y="559" width="3" height="1" fill="#c0c0c0"/>
<rect x="546" y="559" width="3" height="1" fill="#c0c0c0"/>
<rect x="552" y="559" width="3" height="1" fill="#c0c0c0"/>
<rect x="558" y="559" width="3" height="1" fill="#c0c0c0"/>
<rect x="564" y="559" width="3" height="1" fill="#c0c0c0"/>
<rect x="570" y="559" width="3" height="1" fill="#c0c0c0"/>
<rect x="576" y="559" width="3" height="1" fill="#c0c0c0"/>
<rect x="582" y="559" width="3" height="1" fill="#c0c0c0"/>
<rect x="588" y="559" width="3" height="1" fill="#c0c0c0"/>
<rect x="594" y="559" width="3" height="1" fill="#c0c0c0"/>
<rect x="600" y="559" width="3" height="1" fill="#c0c0c0"/>
<rect x="606" y="559" width="3" height="1" fill="#c0c0c0"/>
<rect x="612" y="559" width="3" height="1" fill="#c0c0c0"/>
<rect x="618" y="559" width="3" height="1" fill="#c0c0c0"/>
<rect x="624" y="559" width="3" height="1" fill="#c0c0c0"/>
<rect x="630" y="559" width="3" height="1" fill="#c0c0c0"/>
<rect x="636" y="559" width="3" height="1" fill="#c0c0c0"/>
<rect x="642" y="559" width="3" height="1" fill="#c0c0c0"/>
<rect x="648" y="559" width="3" height="1" fill="#c0c0c0"/>
<rect x="654" y="559" width="3" height="1" fill="#c0c0c0"/>
<rect x="660" y="559" width="3" height="1" fill="#c0c0c0"/>
<rect x="666" y="559" width="3" height="1" fill="#c0c0c0"/>
<rect x="672" y="559" width="3" height="1" fill="#c0c0c0"/>
<rect x="678" y="559" width="3" height="1" fill="#c0c0c0"/>
<rect x="684" y="559" width="3" height="1" fill="#c0c0c0"/>
<rect x="690" y="559" width="3" height="1" fill="#c0c0c0"/>
<rect x="696" y="559" width="3" height="1" fill="#c0c0c0"/>
<rect x="702" y="559" width="3" height="1" fill="#c0c0c0"/>
<rect x="708" y="559" width="3" height="1" fill="#c0c0c0"/>
<rect x="714" y="559" width="3" height="1" fill="#c0c0c0"/>
<rect x="720" y="559" width="3" height="1" fill="#c0c0c0"/>
<rect x="726" y="559" width="3" height="1" fill="#c0c0c0"/>
<rect x="732" y="559" width="3" height="1" fill="#c0c0c0"/>
<rect x="738" y="559" width="3" height="1" fill="#c0c0c0"/>
<rect x="744" y="559" width="3" height="1" fill="#c0c0c0"/>
<rect x="750" y="559" width="3" height="1" fill="#c0c0c0"/>
<rect x="756" y="559" width="3" height="1" fill="#c0c0c0"/>
<rect x="762" y="559" width="3" height="1" fill="#c0c0c0"/>
<rect x="768" y="559" width="3" height="1" fill="#c0c0c0"/>
<rect x="774" y="559" width="3" height="1" fill="#c0c0c0"/>
<rect x="780" y="559" width="3" height="1" fill="#c0c0c0"/>
<rect x="786" y="559" width="3" height="1" fill="#c0c0c0"/>
<rect x="792" y="559" width="3" height="1" fill="#c0c0c0"/>
<rect x="798" y="559" width="3" height="1" fill="#c0c0c0"/>
<rect x="804" y="559" width="3" height="1" fill="#c0c0c0"/>
<rect x="810" y="559" width="3" height="1" fill="#c0c0c0"/>
<rect x="816" y="559" width="3" height="1" fill="#c0c0c0"/>
<rect x="822" y="559" width="3" height="1" fill="#c0c0c0"/>
<rect x="828" y="559" width="3" height="1" fill="#c0c0c0"/>
<rect x="834" y="559" width="3" height="1" fill="#c0c0c0"/>
<rect x="840" y="559" width="3" height="1" fill="#c0c0c0"/>
<rect x="846" y="559" width="3" height="1" fill="#c0c0c0"/>
<rect x="852" y="559" width="3" height="1" fill="#c0c0c0"/>
<rect x="858" y="559" width="3" height="1" fill="#c0c0c0"/>
<rect x="864" y="559" width="3" height="1" fill="#c0c0c0"/>
<rect x="870" y="559" width="3" height="1" fill="#c0c0c0"/>
<rect x="876" y="559" width="3" height="1" fill="#c0c0c0"/>
<rect x="882" y="559" width="3" height="1" fill="#c0c0c0"/>
<rect x="888" y="559" width="3" height="1" fill="#c0c0c0"/>
<rect x="894" y="559" width="3" height="1" fill="#c0c0c0"/>
<rect x="900" y="559" width="3" height="1" fill="#c0c0c0"/>
<rect x="906" y="559" width="3" height="1" fill="#c0c0c0"/>
<rect x="912" y="559" width="3" height="1" fill="#c0c0c0"/>
<rect x="918" y="559" width="3" height="1" fill="#c0c0c0"/>
<rect x="924" y="559" width="3" height="1" fill="#c0c0c0"/>
<rect x="930" y="559" width="3" height="1" fill="#c0c0c0"/>
<rect x="936" y="559" width="3" height="1" fill="#c0c0c0"/>
<rect x="942" y="559" width="3" height="1" fill="#c0c0c0"/>
<rect x="948" y="559" width="3" height="1" fill="#c0c0c0"/>
<rect x="954" y="559" width="3" height="1" fill="#c0c0c0"/>
<rect x="960" y="559" width="3" height="1" fill="#c0c0c0"/>
<rect x="966" y="559" width="3" height="1" fill="#c0c0c0"/>
<rect x="972" y="559" width="3" height="1" fill="#c0c0c0"/>
<rect x="978" y="559" width="3" height="1" fill="#c0c0c0"/>
<rect x="984" y="559" width="3" height="1" fill="#c0c0c0"/>
<rect x="990" y="559" width="3" height="1" fill="#c0c0c0"/>
<rect x="996" y="559" width="3" height="1" fill="#c0c0c0"/>
<rect x="1002" y="559" width="3" height="1" fill="#c0c0c0"/>
<rect x="1008" y="559" width="3" height="1" fill="#c0c0c0"/>
<rect x="1014" y="559" width="3" height="1" fill="#c0c0c0"/>
<rect x="1020" y="559" width="3" height="1" fill="#c0c0c0"/>
<rect x="1026" y="559" width="3" height="1" fill="#c0c0c0"/>
<rect x="1032" y="559" width="3" height="1" fill="#c0c0c0"/>
<rect x="1038" y="559" width="3" height="1" fill="#c0c0c0"/>
<rect x="1044" y="559" width="3" height="1" fill="#c0c0c0"/>
<rect x="1050" y="559" width="3" height="1" fill="#c0c0c0"/>
<rect x="1056" y="559" width="3" height="1" fill="#c0c0c0"/>
<rect x="1062" y="559" width="3" height="1" fill="#c0c0c0"/>
<rect x="1068" y="559" width="3" height="1" fill="#c0c0c0"/>
<rect x="1074" y="559" width="3" height="1" fill="#c0c0c0"/>
<rect x="1080" y="559" width="3" height="1" fill="#c0c0c0"/>
<rect x="1086" y="559" width="3" height="1" fill="#c0c0c0"/>
<rect x="1092" y="559" width="3" height="1" fill="#c0c0c0"/>
<rect x="1098" y="559" width="3" height="1" fill="#c0c0c0"/>
<rect x="1104" y="559" width="3" height="1" fill="#c0c0c0"/>
<rect x="1110" y="559" width="3" height="1" fill="#c0c0c0"/>
<rect x="1116" y="559" width="3" height="1" fill="#c0c0c0"/>
<rect x="1122" y="559" width="3" height="1" fill="#c0c0c0"/>
<rect x="1128" y="559" width="3" height="1" fill="#c0c0c0"/>
<rect x="1134" y="559" width="3" height="1" fill="#c0c0c0"/>
<rect x="1140" y="559" width="3" height="1" fill="#c0c0c0"/>
<rect x="1146" y="559" width="3" height="1" fill="#c0c0c0"/>
<rect x="1152" y="559" width="3" height="1" fill="#c0c0c0"/>
<rect x="1158" y="559" width="3" height="1" fill="#c0c0c0"/>
<rect x="1164" y="559" width="3" height="1" fill="#c0c0c0"/>
<rect x="1170" y="559" width="3" height="1" fill="#c0c0c0"/>
<rect x="1176" y="559" width="3" height="1" fill="#c0c0c0"/>
<rect x="1182" y="559" width="3" height="1" fill="#c0c0c0"/>
<rect x="1188" y="559" width="3" height="1" fill="#c0c0c0"/>
<rect x="1194" y="559" width="3" height="1" fill="#c0c0c0"/>
<rect x="1200" y="559" width="3" height="1" fill="#c0c0c0"/>
<rect x="1206" y="559" width="3" height="1" fill="#c0c0c0"/>
<rect x="1212" y="559" width="3" height="1" fill="#c0c0c0"/>
<rect x="1218" y="559" width="3" height="1" fill="#c0c0c0"/>
<rect x="1224" y="559" width="3" height="1" fill="#c0c0c0"/>
<rect x="1230" y="559" width="3" height="1" fill="#c0c0c0"/>
<rect x="1236" y="559" width="3" height="1" fill="#c0c0c0"/>
<rect x="1242" y="559" width="3" height="1" fill="#c0c0c0"/>
<rect x="1248" y="559" width="3" height="1" fill="#c0c0c0"/>
<rect x="1254" y="559" width="3" height="1" fill="#c0c0c0"/>
<rect x="1260" y="559" width="3" height="1" fill="#c0c0c0"/>
<rect x="1266" y="559" width="3" height="1" fill="#c0c0c0"/>
<rect x="1272" y="559" width="3" height="1" fill="#c0c0c0"/>
<rect x="1278" y="559" width="3" height="1" fill="#c0c0c0"/>
<rect x="1284" y="559" width="3" height="1" fill="#c0c0c0"/>
<rect x="1290" y="559" width="3" height="1" fill="#c0c0c0"/>
<rect x="1296" y="559" width="3" height="1" fill="#c0c0c0"/>
<rect x="1302" y="559" width="3" height="1" fill="#c0c0c0"/>
<rect x="1308" y="559" width="3" height="1" fill="#c0c0c0"/>
<rect x="1314" y="559" width="3" height="1" fill="#c0c0c0"/>
<rect x="1320" y="559" width="3" height="1" fill="#c0c0c0"/>
<rect x="1326" y="559" width="3" height="1" fill="#c0c0c0"/>
<rect x="1332" y="559" width="3" height="1" fill="#c0c0c0"/>
<rect x="1338" y="559" width="3" height="1" fill="#c0c0c0"/>
<rect x="1344" y="559" width="3" height="1" fill="#c0c0c0"/>
<rect x="1350" y="559" width="3" height="1" fill="#c0c0c0"/>
<rect x="1356" y="559" width="3" height="1" fill="#c0c0c0"/>
<rect x="1362" y="559" width="3" height="1" fill="#c0c0c0"/>
<rect x="1368" y="559" width="3" height="1" fill="#c0c0c0"/>
<rect x="1374" y="559" width="3" height="1" fill="#c0c0c0"/>
<rect x="1380" y="559" width="3" height="1" fill="#c0c0c0"/>
<rect x="1386" y="559" width="3" height="1" fill="#c0c0c0"/>
<rect x="1392" y="559" width="3" height="1" fill="#c0c0c0"/>
<rect x="1398" y="559" width="3" height="1" fill="#c0c0c0"/>
<rect x="1404" y="559" width="3" height="1" fill="#c0c0c0"/>
<rect x="1410" y="559" width="3" height="1" fill="#c0c0c0"/>
<rect x="1416" y="559" width="3" height="1" fill="#c0c0c0"/>
<rect x="1422" y="559" width="3" height="1" fill="#c0c0c0"/>
<rect x="1428" y="559" width="3" height="1" fill="#c0c0c0"/>
<rect x="1434" y="559" width="3" height="1" fill="#c0c0c0"/>
<rect x="1440" y="559" width="3" height="1" fill="#c0c0c0"/>
<rect x="1446" y="559" width="3" height="1" fill="#c0c0c0"/>
<rect x="1452" y="559" width="3" height="1" fill="#c0c0c0"/>
<rect x="1458" y="559" width="3" height="1" fill="#c0c0c0"/>
<rect x="1464" y="559" width="3" height="1" fill="#c0c0c0"/>
<rect x="1470" y="559" width="3" height="1" fill="#c0c0c0"/>
<rect x="1476" y="559" width="3" height="1" fill="#c0c0c0"/>
<rect x="1482" y="559" width="3" height="1" fill="#c0c0c0"/>
<rect x="1488" y="559" width="3" height="1" fill="#c0c0c0"/>
<rect x="1494" y="559" width="3" height="1" fill="#c0c0c0"/>
<rect x="1500" y="559" width="3" height="1" fill="#c0c0c0"/>
<rect x="1506" y="559" width="3" height="1" fill="#c0c0c0"/>
<rect x="1512" y="559" width="3" height="1" fill="#c0c0c0"/>
<rect x="1518" y="559" width="2" height="1" fill="#c0c0c0"/>
<rect x="6" y="595" width="3" height="1" fill="#c0c0c0"/>
<rect x="12" y="595" width="3" height="1" fill="#c0c0c0"/>
<rect x="18" y="595" width="3" height="1" fill="#c0c0c0"/>
<rect x="24" y="595" width="3" height="1" fill="#c0c0c0"/>
<rect x="30" y="595" width="3" height="1" fill="#c0c0c0"/>
<rect x="36" y="595" width="3" height="1" fill="#c0c0c0"/>
<rect x="42" y="595" width="3" height="1" fill="#c0c0c0"/>
<rect x="48" y="595" width="3" height="1" fill="#c0c0c0"/>
<rect x="54" y="595" width="3" height="1" fill="#c0c0c0"/>
<rect x="60" y="595" width="3" height="1" fill="#c0c0c0"/>
<rect x="66" y="595" width="3" height="1" fill="#c0c0c0"/>
<rect x="72" y="595" width="3" height="1" fill="#c0c0c0"/>
<rect x="78" y="595" width="3" height="1" fill="#c0c0c0"/>
<rect x="84" y="595" width="3" height="1" fill="#c0c0c0"/>
<rect x="90" y="595" width="3" height="1" fill="#c0c0c0"/>
<rect x="96" y="595" width="3" height="1" fill="#c0c0c0"/>
<rect x="102" y="595" width="3" height="1" fill="#c0c0c0"/>
<rect x="108" y="595" width="3" height="1" fill="#c0c0c0"/>
<rect x="114" y="595" width="3" height="1" fill="#c0c0c0"/>
<rect x="120" y="595" width="3" height="1" fill="#c0c0c0"/>
<rect x="126" y="595" width="3" height="1" fill="#c0c0c0"/>
<rect x="132" y="595" width="3" height="1" fill="#c0c0c0"/>
<rect x="138" y="595" width="3" height="1" fill="#c0c0c0"/>
<rect x="144" y="595" width="3" height="1" fill="#c0c0c0"/>
<rect x="150" y="595" width="3" height="1" fill="#c0c0c0"/>
<rect x="156" y="595" width="3" height="1" fill="#c0c0c0"/>
<rect x="162" y="595" width="3" height="1" fill="#c0c0c0"/>
<rect x="168" y="595" width="3" height="1" fill="#c0c0c0"/>
<rect x="174" y="595" width="3" height="1" fill="#c0c0c0"/>
<rect x="180" y="595" width="3" height="1" fill="#c0c0c0"/>
<rect x="186" y="595" width="3" height="1" fill="#c0c0c0"/>
<rect x="192" y="595" width="3" height="1" fill="#c0c0c0"/>
<rect x="198" y="595" width="3" height="1" fill="#c0c0c0"/>
<rect x="204" y="595" width="3" height="1" fill="#c0c0c0"/>
<rect x="210" y="595" width="3" height="1" fill="#c0c0c0"/>
<rect x="216" y="595" width="3" height="1" fill="#c0c0c0"/>
<rect x="222" y="595" width="3" height="1" fill="#c0c0c0"/>
<rect x="228" y="595" width="3" height="1" fill="#c0c0c0"/>
<rect x="234" y="595" width="3" height="1" fill="#c0c0c0"/>
<rect x="240" y="595" width="3" height="1" fill="#c0c0c0"/>
<rect x="246" y="595" width="3" height="1" fill="#c0c0c0"/>
<rect x="252" y="595" width="3" height="1" fill="#c0c0c0"/>
<rect x="258" y="595" width="3" height="1" fill="#c0c0c0"/>
<rect x="264" y="595" width="3" height="1" fill="#c0c0c0"/>
<rect x="270" y="595" width="3" height="1" fill="#c0c0c0"/>
<rect x="276" y="595" width="3" height="1" fill="#c0c0c0"/>
<rect x="282" y="595" width="3" height="1" fill="#c0c0c0"/>
<rect x="288" y="595" width="3" height="1" fill="#c0c0c0"/>
<rect x="294" y="595" width="3" height="1" fill="#c0c0c0"/>
<rect x="300" y="595" width="3" height="1" fill="#c0c0c0"/>
<rect x="306" y="595" width="3" height="1" fill="#c0c0c0"/>
<rect x="312" y="595" width="3" height="1" fill="#c0c0c0"/>
<rect x="318" y="595" width="3" height="1" fill="#c0c0c0"/>
<rect x="324" y="595" width="3" height="1" fill="#c0c0c0"/>
<rect x="330" y="595" width="3" height="1" fill="#c0c0c0"/>
<rect x="336" y="595" width="3" height="1" fill="#c0c0c0"/>
<rect x="342" y="595" width="3" height="1" fill="#c0c0c0"/>
<rect x="348" y="595" width="3" height="1" fill="#c0c0c0"/>
<rect x="354" y="595" width="3" height="1" fill="#c0c0c0"/>
<rect x="360" y="595" width="3" height="1" fill="#c0c0c0"/>
<rect x="366" y="595" width="3" height="1" fill="#c0c0c0"/>
<rect x="372" y="595" width="3" height="1" fill="#c0c0c0"/>
<rect x="378" y="595" width="3" height="1" fill="#c0c0c0"/>
<rect x="384" y="595" width="3" height="1" fill="#c0c0c0"/>
<rect x="390" y="595" width="3" height="1" fill="#c0c0c0"/>
<rect x="396" y="595" width="3" height="1" fill="#c0c0c0"/>
<rect x="402" y="595" width="3" height="1" fill="#c0c0c0"/>
<rect x="408" y="595" width="3" height="1" fill="#c0c0c0"/>
<rect x="414" y="595" width="3" height="1" fill="#c0c0c0"/>
<rect x="420" y="595" width="3" height="1" fill="#c0c0c0"/>
<rect x="426" y="595" width="3" height="1" fill="#c0c0c0"/>
<rect x="432" y="595" width="3" height="1" fill="#c0c0c0"/>
<rect x="438" y="595" width="3" height="1" fill="#c0c0c0"/>
<rect x="444" y="595" width="3" height="1" fill="#c0c0c0"/>
<rect x="450" y="595" width="3" height="1" fill="#c0c0c0"/>
<rect x="456" y="595" width="3" height="1" fill="#c0c0c0"/>
<rect x="462" y="595" width="3" height="1" fill="#c0c0c0"/>
<rect x="468" y="595" width="3" height="1" fill="#c0c0c0"/>
<rect x="474" y="595" width="3" height="1" fill="#c0c0c0"/>
<rect x="480" y="595" width="3" height="1" fill="#c0c0c0"/>
<rect x="486" y="595" width="3" height="1" fill="#c0c0c0"/>
<rect x="492" y="595" width="3" height="1" fill="#c0c0c0"/>
<rect x="498" y="595" width="3" height="1" fill="#c0c0c0"/>
<rect x="504" y="595" width="3" height="1" fill="#c0c0c0"/>
<rect x="510" y="595" width="3" height="1" fill="#c0c0c0"/>
<rect x="516" y="595" width="3" height="1" fill="#c0c0c0"/>
<rect x="522" y="595" width="3" height="1" fill="#c0c0c0"/>
<rect x="528" y="595" width="3" height="1" fill="#c0c0c0"/>
<rect x="534" y="595" width="3" height="1" fill="#c0c0c0"/>
<rect x="540" y="595" width="3" height="1" fill="#c0c0c0"/>
<rect x="546" y="595" width="3" height="1" fill="#c0c0c0"/>
<rect x="552" y="595" width="3" height="1" fill="#c0c0c0"/>
<rect x="558" y="595" width="3" height="1" fill="#c0c0c0"/>
<rect x="564" y="595" width="3" height="1" fill="#c0c0c0"/>
<rect x="570" y="595" width="3" height="1" fill="#c0c0c0"/>
<rect x="576" y="595" width="3" height="1" fill="#c0c0c0"/>
<rect x="582" y="595" width="3" height="1" fill="#c0c0c0"/>
<rect x="588" y="595" width="3" height="1" fill="#c0c0c0"/>
<rect x="594" y="595" width="3" height="1" fill="#c0c0c0"/>
<rect x="600" y="595" width="3" height="1" fill="#c0c0c0"/>
<rect x="606" y="595" width="3" height="1" fill="#c0c0c0"/>
<rect x="612" y="595" width="3" height="1" fill="#c0c0c0"/>
<rect x="618" y="595" width="3" height="1" fill="#c0c0c0"/>
<rect x="624" y="595" width="3" height="1" fill="#c0c0c0"/>
<rect x="630" y="595" width="3" height="1" fill="#c0c0c0"/>
<rect x="636" y="595" width="3" height="1" fill="#c0c0c0"/>
<rect x="642" y="595" width="3" height="1" fill="#c0c0c0"/>
<rect x="648" y="595" width="3" height="1" fill="#c0c0c0"/>
<rect x="654" y="595" width="3" height="1" fill="#c0c0c0"/>
<rect x="660" y="595" width="3" height="1" fill="#c0c0c0"/>
<rect x="666" y="595" width="3" height="1" fill="#c0c0c0"/>
<rect x="672" y="595" width="3" height="1" fill="#c0c0c0"/>
<rect x="678" y="595" width="3" height="1" fill="#c0c0c0"/>
<rect x="684" y="595" width="3" height="1" fill="#c0c0c0"/>
<rect x="690" y="595" width="3" height="1" fill="#c0c0c0"/>
<rect x="696" y="595" width="3" height="1" fill="#c0c0c0"/>
<rect x="702" y="595" width="3" height="1" fill="#c0c0c0"/>
<rect x="708" y="595" width="3" height="1" fill="#c0c0c0"/>
<rect x="714" y="595" width="3" height="1" fill="#c0c0c0"/>
<rect x="720" y="595" width="3" height="1" fill="#c0c0c0"/>
<rect x="726" y="595" width="3" height="1" fill="#c0c0c0"/>
<rect x="732" y="595" width="3" height="1" fill="#c0c0c0"/>
<rect x="738" y="595" width="3" height="1" fill="#c0c0c0"/>
<rect x="744" y="595" width="3" height="1" fill="#c0c0c0"/>
<rect x="750" y="595" width="3" height="1" fill="#c0c0c0"/>
<rect x="756" y="595" width="3" height="1" fill="#c0c0c0"/>
<rect x="762" y="595" width="3" height="1" fill="#c0c0c0"/>
<rect x="768" y="595" width="3" height="1" fill="#c0c0c0"/>
<rect x="774" y="595" width="3" height="1" fill="#c0c0c0"/>
<rect x="780" y="595" width="3" height="1" fill="#c0c0c0"/>
<rect x="786" y="595" width="3" height="1" fill="#c0c0c0"/>
<rect x="792" y="595" width="3" height="1" fill="#c0c0c0"/>
<rect x="798" y="595" width="3" height="1" fill="#c0c0c0"/>
<rect x="804" y="595" width="3" height="1" fill="#c0c0c0"/>
<rect x="810" y="595" width="3" height="1" fill="#c0c0c0"/>
<rect x="816" y="595" width="3" height="1" fill="#c0c0c0"/>
<rect x="822" y="595" width="3" height="1" fill="#c0c0c0"/>
<rect x="828" y="595" width="3" height="1" fill="#c0c0c0"/>
<rect x="834" y="595" width="3" height="1" fill="#c0c0c0"/>
<rect x="840" y="595" width="3" height="1" fill="#c0c0c0"/>
<rect x="846" y="595" width="3" height="1" fill="#c0c0c0"/>
<rect x="852" y="595" width="3" height="1" fill="#c0c0c0"/>
<rect x="858" y="595" width="3" height="1" fill="#c0c0c0"/>
<rect x="864" y="595" width="3" height="1" fill="#c0c0c0"/>
<rect x="870" y="595" width="3" height="1" fill="#c0c0c0"/>
<rect x="876" y="595" width="3" height="1" fill="#c0c0c0"/>
<rect x="882" y="595" width="3" height="1" fill="#c0c0c0"/>
<rect x="888" y="595" width="3" height="1" fill="#c0c0c0"/>
<rect x="894" y="595" width="3" height="1" fill="#c0c0c0"/>
<rect x="900" y="595" width="3" height="1" fill="#c0c0c0"/>
<rect x="906" y="595" width="3" height="1" fill="#c0c0c0"/>
<rect x="912" y="595" width="3" height="1" fill="#c0c0c0"/>
<rect x="918" y="595" width="3" height="1" fill="#c0c0c0"/>
<rect x="924" y="595" width="3" height="1" fill="#c0c0c0"/>
<rect x="930" y="595" width="3" height="1" fill="#c0c0c0"/>
<rect x="936" y="595" width="3" height="1" fill="#c0c0c0"/>
<rect x="942" y="595" width="3" height="1" fill="#c0c0c0"/>
<rect x="948" y="595" width="3" height="1" fill="#c0c0c0"/>
<rect x="954" y="595" width="3" height="1" fill="#c0c0c0"/>
<rect x="960" y="595" width="3" height="1" fill="#c0c0c0"/>
<rect x="966" y="595" width="3" height="1" fill="#c0c0c0"/>
<rect x="972" y="595" width="3" height="1" fill="#c0c0c0"/>
<rect x="978" y="595" width="3" height="1" fill="#c0c0c0"/>
<rect x="984" y="595" width="3" height="1" fill="#c0c0c0"/>
<rect x="990" y="595" width="3" height="1" fill="#c0c0c0"/>
<rect x="996" y="595" width="3" height="1" fill="#c0c0c0"/>
<rect x="1002" y="595" width="3" height="1" fill="#c0c0c0"/>
<rect x="1008" y="595" width="3" height="1" fill="#c0c0c0"/>
<rect x="1014" y="595" width="3" height="1" fill="#c0c0c0"/>
<rect x="1020" y="595" width="3" height="1" fill="#c0c0c0"/>
<rect x="1026" y="595" width="3" height="1" fill="#c0c0c0"/>
<rect x="1032" y="595" width="3" height="1" fill="#c0c0c0"/>
<rect x="1038" y="595" width="3" height="1" fill="#c0c0c0"/>
<rect x="1044" y="595" width="3" height="1" fill="#c0c0c0"/>
<rect x="1050" y="595" width="3" height="1" fill="#c0c0c0"/>
<rect x="1056" y="595" width="3" height="1" fill="#c0c0c0"/>
<rect x="1062" y="595" width="3" height="1" fill="#c0c0c0"/>
<rect x="1068" y="595" width="3" height="1" fill="#c0c0c0"/>
<rect x="1074" y="595" width="3" height="1" fill="#c0c0c0"/>
<rect x="1080" y="595" width="3" height="1" fill="#c0c0c0"/>
<rect x="1086" y="595" width="3" height="1" fill="#c0c0c0"/>
<rect x="1092" y="595" width="3" height="1" fill="#c0c0c0"/>
<rect x="1098" y="595" width="3" height="1" fill="#c0c0c0"/>
<rect x="1104" y="595" width="3" height="1" fill="#c0c0c0"/>
<rect x="1110" y="595" width="3" height="1" fill="#c0c0c0"/>
<rect x="1116" y="595" width="3" height="1" fill="#c0c0c0"/>
<rect x="1122" y="595" width="3" height="1" fill="#c0c0c0"/>
<rect x="1128" y="595" width="3" height="1" fill="#c0c0c0"/>
<rect x="1134" y="595" width="3" height="1" fill="#c0c0c0"/>
<rect x="1140" y="595" width="3" height="1" fill="#c0c0c0"/>
<rect x="1146" y="595" width="3" height="1" fill="#c0c0c0"/>
<rect x="1152" y="595" width="3" height="1" fill="#c0c0c0"/>
<rect x="1158" y="595" width="3" height="1" fill="#c0c0c0"/>
<rect x="1164" y="595" width="3" height="1" fill="#c0c0c0"/>
<rect x="1170" y="595" width="3" height="1" fill="#c0c0c0"/>
<rect x="1176" y="595" width="3" height="1" fill="#c0c0c0"/>
<rect x="1182" y="595" width="3" height="1" fill="#c0c0c0"/>
<rect x="1188" y="595" width="3" height="1" fill="#c0c0c0"/>
<rect x="1194" y="595" width="3" height="1" fill="#c0c0c0"/>
<rect x="1200" y="595" width="3" height="1" fill="#c0c0c0"/>
<rect x="1206" y="595" width="3" height="1" fill="#c0c0c0"/>
<rect x="1212" y="595" width="3" height="1" fill="#c0c0c0"/>
<rect x="1218" y="595" width="3" height="1" fill="#c0c0c0"/>
<rect x="1224" y="595" width="3" height="1" fill="#c0c0c0"/>
<rect x="1230" y="595" width="3" height="1" fill="#c0c0c0"/>
<rect x="1236" y="595" width="3" height="1" fill="#c0c0c0"/>
<rect x="1242" y="595" width="3" height="1" fill="#c0c0c0"/>
<rect x="1248" y="595" width="3" height="1" fill="#c0c0c0"/>
<rect x="1254" y="595" width="3" height="1" fill="#c0c0c0"/>
<rect x="1260" y="595" width="3" height="1" fill="#c0c0c0"/>
<rect x="1266" y="595" width="3" height="1" fill="#c0c0c0"/>
<rect x="1272" y="595" width="3" height="1" fill="#c0c0c0"/>
<rect x="1278" y="595" width="3" height="1" fill="#c0c0c0"/>
<rect x="1284" y="595" width="3" height="1" fill="#c0c0c0"/>
<rect x="1290" y="595" width="3" height="1" fill="#c0c0c0"/>
<rect x="1296" y="595" width="3" height="1" fill="#c0c0c0"/>
<rect x="1302" y="595" width="3" height="1" fill="#c0c0c0"/>
<rect x="1308" y="595" width="3" height="1" fill="#c0c0c0"/>
<rect x="1314" y="595" width="3" height="1" fill="#c0c0c0"/>
<rect x="1320" y="595" width="3" height="1" fill="#c0c0c0"/>
<rect x="1326" y="595" width="3" height="1" fill="#c0c0c0"/>
<rect x="1332" y="595" width="3" height="1" fill="#c0c0c0"/>
<rect x="1338" y="595" width="3" height="1" fill="#c0c0c0"/>
<rect x="1344" y="595" width="3" height="1" fill="#c0c0c0"/>
<rect x="1350" y="595" width="3" height="1" fill="#c0c0c0"/>
<rect x="1356" y="595" width="3" height="1" fill="#c0c0c0"/>
<rect x="1362" y="595" width="3" height="1" fill="#c0c0c0"/>
<rect x="1368" y="595" width="3" height="1" fill="#c0c0c0"/>
<rect x="1374" y="595" width="3" height="1" fill="#c0c0c0"/>
<rect x="1380" y="595" width="3" height="1" fill="#c0c0c0"/>
<rect x="1386" y="595" width="3" height="1" fill="#c0c0c0"/>
<rect x="1392" y="595" width="3" height="1" fill="#c0c0c0"/>
<rect x="1398" y="595" width="3" height="1" fill="#c0c0c0"/>
<rect x="1404" y="595" width="3" height="1" fill="#c0c0c0"/>
<rect x="1410" y="595" width="3" height="1" fill="#c0c0c0"/>
<rect x="1416" y="595" width="3" height="1" fill="#c0c0c0"/>
<rect x="1422" y="595" width="3" height="1" fill="#c0c0c0"/>
<rect x="1428" y="595" width="3" height="1" fill="#c0c0c0"/>
<rect x="1434" y="595" width="3" height="1" fill="#c0c0c0"/>
<rect x="1440" y="595" width="3" height="1" fill="#c0c0c0"/>
<rect x="1446" y="595" width="3" height="1" fill="#c0c0c0"/>
<rect x="1452" y="595" width="3" height="1" fill="#c0c0c0"/>
<rect x="1458" y="595" width="3" height="1" fill="#c0c0c0"/>
<rect x="1464" y="595" width="3" height="1" fill="#c0c0c0"/>
<rect x="1470" y="595" width="3" height="1" fill="#c0c0c0"/>
<rect x="1476" y="595" width="3" height="1" fill="#c0c0c0"/>
<rect x="1482" y="595" width="3" height="1" fill="#c0c0c0"/>
<rect x="1488" y="595" width="3" height="1" fill="#c0c0c0"/>
<rect x="1494" y="595" width="3" height="1" fill="#c0c0c0"/>
<rect x="1500" y="595" width="3" height="1" fill="#c0c0c0"/>
<rect x="1506" y="595" width="3" height="1" fill="#c0c0c0"/>
<rect x="1512" y="595" width="3" height="1" fill="#c0c0c0"/>
<rect x="1518" y="595" width="2" height="1" fill="#c0c0c0"/>
<polyline points="5.5,566.5 13.5,565.7 21.5,565.3 29.5,562.7 37.5,567.3 45.5,568.5 53.5,568.5 61.5,569.3 69.5,570.7 77.5,565.3 85.5,568.2 93.5,581.5 101.5,587.3 109.5,575.3 117.5,576.5 125.5,580.7 133.5,579.3 141.5,582.3 149.5,585.7 157.5,583.2 165.5,585.2 173.5,589.3 181.5,588.2 189.5,593.2 197.5,590.3 205.5,583.5 213.5,583.5 221.5,582.3 229.5,585.7 237.5,583.2 245.5,589.8 253.5,592.5 261.5,594.3 269.5,596.5 277.5,602.3 285.5,599.5 293.5,600.7 301.5,599.3 309.5,598.2 317.5,599.5 325.5,589.8 333.5,586.0 341.5,576.5 349.5,582.3 357.5,581.2 365.5,582.3 373.5,580.3 381.5,582.3 389.5,583.5 397.5,580.7 405.5,579.3 413.5,580.7 421.5,579.3 429.5,570.3 437.5,567.3 445.5,568.5 453.5,568.5 461.5,563.7 469.5,563.5 477.5,560.7 485.5,558.5 493.5,558.7 501.5,557.3 509.5,554.5 517.5,553.5 525.5,552.3 533.5,552.3 541.5,551.2 549.5,553.5 557.5,551.2 565.5,559.8 573.5,568.2 581.5,569.3 589.5,568.5 597.5,570.7 605.5,573.5 613.5,570.3 621.5,574.0 629.5,576.2 637.5,577.3 645.5,581.5 653.5,569.3 661.5,566.5 669.5,564.5 677.5,558.2 685.5,553.5 693.5,557.3 701.5,560.7 709.5,569.3 717.5,563.7 725.5,563.5 733.5,561.5 741.5,561.5 749.5,554.8 757.5,545.3 765.5,549.3 773.5,546.5 781.5,544.3 789.5,550.3 797.5,549.0 805.5,545.3 813.5,542.0 821.5,546.0 829.5,552.3 837.5,551.2 845.5,550.3 853.5,553.5 861.5,561.5 869.5,574.0 877.5,573.5 885.5,578.2 893.5,571.5 901.5,573.5 909.5,570.3 917.5,574.3 925.5,573.5 933.5,572.3 941.5,574.0 949.5,579.3 957.5,578.2 965.5,579.3 973.5,580.3 981.5,580.3 989.5,580.3 997.5,582.3 1005.5,573.5 1013.5,572.3 1021.5,577.3 1029.5,577.3 1037.5,575.7 1045.5,570.3 1053.5,574.0 1061.5,578.5 1069.5,575.3 1077.5,575.3 1085.5,578.2 1093.5,580.2 1101.5,583.2 1109.5,584.3 1117.5,574.3 1125.5,576.5 1133.5,575.3 1141.5,578.5 1149.5,573.5 1157.5,581.5 1165.5,583.5 1173.5,582.3 1181.5,577.3 1189.5,578.5 1197.5,574.3 1205.5,574.3" fill="none" stroke="#1e90ff" stroke-width="1"/>
<rect x="1521" y="533" width="1" height="1" fill="#000"/>
</g>
<text x="9.00" y="544" font-size="10.2" fill="#000" stroke="#000" stroke-width="0.15" textLength="32.83" lengthAdjust="spacingAndGlyphs">RSI(14)</text>
<text x="44.04" y="544" font-size="10.2" fill="#000" stroke="#000" stroke-width="0.15" textLength="33.20" lengthAdjust="spacingAndGlyphs">53.7453</text>
<text x="1523.57" y="542" font-size="10.2" fill="#000" stroke="#000" stroke-width="0.15" textLength="15.59" lengthAdjust="spacingAndGlyphs">100</text>
<text x="1523.27" y="563" font-size="10.2" fill="#000" stroke="#000" stroke-width="0.15" textLength="10.39" lengthAdjust="spacingAndGlyphs">70</text>
<text x="1523.33" y="599" font-size="10.2" fill="#000" stroke="#000" stroke-width="0.15" textLength="10.28" lengthAdjust="spacingAndGlyphs">30</text>
<text x="1523.93" y="620" font-size="10.2" fill="#000" stroke="#000" stroke-width="0.15" textLength="6.15" lengthAdjust="spacingAndGlyphs">0</text>
<g shape-rendering="crispEdges">
<rect x="5" y="696" width="1" height="4" fill="#c0c0c0"/>
<rect x="13" y="696" width="1" height="4" fill="#c0c0c0"/>
<rect x="21" y="693" width="1" height="7" fill="#c0c0c0"/>
<rect x="29" y="692" width="1" height="8" fill="#c0c0c0"/>
<rect x="37" y="692" width="1" height="8" fill="#c0c0c0"/>
<rect x="45" y="693" width="1" height="7" fill="#c0c0c0"/>
<rect x="53" y="693" width="1" height="7" fill="#c0c0c0"/>
<rect x="61" y="693" width="1" height="7" fill="#c0c0c0"/>
<rect x="69" y="693" width="1" height="7" fill="#c0c0c0"/>
<rect x="77" y="693" width="1" height="7" fill="#c0c0c0"/>
<rect x="85" y="693" width="1" height="7" fill="#c0c0c0"/>
<rect x="93" y="695" width="1" height="5" fill="#c0c0c0"/>
<rect x="101" y="697" width="1" height="3" fill="#c0c0c0"/>
<rect x="109" y="697" width="1" height="3" fill="#c0c0c0"/>
<rect x="117" y="697" width="1" height="3" fill="#c0c0c0"/>
<rect x="125" y="698" width="1" height="2" fill="#c0c0c0"/>
<rect x="133" y="698" width="1" height="2" fill="#c0c0c0"/>
<rect x="141" y="699" width="1" height="1" fill="#c0c0c0"/>
<rect x="157" y="699" width="1" height="1" fill="#c0c0c0"/>
<rect x="173" y="699" width="1" height="3" fill="#c0c0c0"/>
<rect x="181" y="699" width="1" height="3" fill="#c0c0c0"/>
<rect x="189" y="699" width="1" height="5" fill="#c0c0c0"/>
<rect x="197" y="699" width="1" height="5" fill="#c0c0c0"/>
<rect x="205" y="699" width="1" height="5" fill="#c0c0c0"/>
<rect x="213" y="699" width="1" height="5" fill="#c0c0c0"/>
<rect x="221" y="699" width="1" height="5" fill="#c0c0c0"/>
<rect x="229" y="699" width="1" height="5" fill="#c0c0c0"/>
<rect x="237" y="699" width="1" height="5" fill="#c0c0c0"/>
<rect x="245" y="699" width="1" height="6" fill="#c0c0c0"/>
<rect x="253" y="699" width="1" height="7" fill="#c0c0c0"/>
<rect x="261" y="699" width="1" height="7" fill="#c0c0c0"/>
<rect x="269" y="699" width="1" height="9" fill="#c0c0c0"/>
<rect x="277" y="699" width="1" height="10" fill="#c0c0c0"/>
<rect x="285" y="699" width="1" height="11" fill="#c0c0c0"/>
<rect x="293" y="699" width="1" height="12" fill="#c0c0c0"/>
<rect x="301" y="699" width="1" height="14" fill="#c0c0c0"/>
<rect x="309" y="699" width="1" height="14" fill="#c0c0c0"/>
<rect x="317" y="699" width="1" height="14" fill="#c0c0c0"/>
<rect x="325" y="699" width="1" height="13" fill="#c0c0c0"/>
<rect x="333" y="699" width="1" height="12" fill="#c0c0c0"/>
<rect x="341" y="699" width="1" height="10" fill="#c0c0c0"/>
<rect x="349" y="699" width="1" height="9" fill="#c0c0c0"/>
<rect x="357" y="699" width="1" height="8" fill="#c0c0c0"/>
<rect x="365" y="699" width="1" height="7" fill="#c0c0c0"/>
<rect x="373" y="699" width="1" height="6" fill="#c0c0c0"/>
<rect x="381" y="699" width="1" height="6" fill="#c0c0c0"/>
<rect x="389" y="699" width="1" height="6" fill="#c0c0c0"/>
<rect x="397" y="699" width="1" height="5" fill="#c0c0c0"/>
<rect x="405" y="699" width="1" height="4" fill="#c0c0c0"/>
<rect x="413" y="699" width="1" height="4" fill="#c0c0c0"/>
<rect x="421" y="699" width="1" height="3" fill="#c0c0c0"/>
<rect x="429" y="699" width="1" height="2" fill="#c0c0c0"/>
<rect x="445" y="699" width="1" height="1" fill="#c0c0c0"/>
<rect x="453" y="698" width="1" height="2" fill="#c0c0c0"/>
<rect x="461" y="697" width="1" height="3" fill="#c0c0c0"/>
<rect x="469" y="696" width="1" height="4" fill="#c0c0c0"/>
<rect x="477" y="694" width="1" height="6" fill="#c0c0c0"/>
<rect x="485" y="693" width="1" height="7" fill="#c0c0c0"/>
<rect x="493" y="692" width="1" height="8" fill="#c0c0c0"/>
<rect x="501" y="691" width="1" height="9" fill="#c0c0c0"/>
<rect x="509" y="690" width="1" height="10" fill="#c0c0c0"/>
<rect x="517" y="689" width="1" height="11" fill="#c0c0c0"/>
<rect x="525" y="688" width="1" height="12" fill="#c0c0c0"/>
<rect x="533" y="688" width="1" height="12" fill="#c0c0c0"/>
<rect x="541" y="687" width="1" height="13" fill="#c0c0c0"/>
<rect x="549" y="687" width="1" height="13" fill="#c0c0c0"/>
<rect x="557" y="687" width="1" height="13" fill="#c0c0c0"/>
<rect x="565" y="688" width="1" height="12" fill="#c0c0c0"/>
<rect x="573" y="688" width="1" height="12" fill="#c0c0c0"/>
<rect x="581" y="689" width="1" height="11" fill="#c0c0c0"/>
<rect x="589" y="690" width="1" height="10" fill="#c0c0c0"/>
<rect x="597" y="691" width="1" height="9" fill="#c0c0c0"/>
<rect x="605" y="692" width="1" height="8" fill="#c0c0c0"/>
<rect x="613" y="692" width="1" height="8" fill="#c0c0c0"/>
<rect x="621" y="693" width="1" height="7" fill="#c0c0c0"/>
<rect x="629" y="694" width="1" height="6" fill="#c0c0c0"/>
<rect x="637" y="695" width="1" height="5" fill="#c0c0c0"/>
<rect x="645" y="696" width="1" height="4" fill="#c0c0c0"/>
<rect x="653" y="696" width="1" height="4" fill="#c0c0c0"/>
<rect x="661" y="695" width="1" height="5" fill="#c0c0c0"/>
<rect x="669" y="695" width="1" height="5" fill="#c0c0c0"/>
<rect x="677" y="693" width="1" height="7" fill="#c0c0c0"/>
<rect x="685" y="691" width="1" height="9" fill="#c0c0c0"/>
<rect x="693" y="690" width="1" height="10" fill="#c0c0c0"/>
<rect x="701" y="689" width="1" height="11" fill="#c0c0c0"/>
<rect x="709" y="690" width="1" height="10" fill="#c0c0c0"/>
<rect x="717" y="689" width="1" height="11" fill="#c0c0c0"/>
<rect x="725" y="689" width="1" height="11" fill="#c0c0c0"/>
<rect x="733" y="688" width="1" height="12" fill="#c0c0c0"/>
<rect x="741" y="688" width="1" height="12" fill="#c0c0c0"/>
<rect x="749" y="686" width="1" height="14" fill="#c0c0c0"/>
<rect x="757" y="680" width="1" height="20" fill="#c0c0c0"/>
<rect x="765" y="676" width="1" height="24" fill="#c0c0c0"/>
<rect x="773" y="672" width="1" height="28" fill="#c0c0c0"/>
<rect x="781" y="666" width="1" height="34" fill="#c0c0c0"/>
<rect x="789" y="663" width="1" height="37" fill="#c0c0c0"/>
<rect x="797" y="660" width="1" height="40" fill="#c0c0c0"/>
<rect x="805" y="655" width="1" height="45" fill="#c0c0c0"/>
<rect x="813" y="645" width="1" height="55" fill="#c0c0c0"/>
<rect x="821" y="639" width="1" height="61" fill="#c0c0c0"/>
<rect x="829" y="637" width="1" height="63" fill="#c0c0c0"/>
<rect x="837" y="635" width="1" height="65" fill="#c0c0c0"/>
<rect x="845" y="632" width="1" height="68" fill="#c0c0c0"/>
<rect x="853" y="632" width="1" height="68" fill="#c0c0c0"/>
<rect x="861" y="635" width="1" height="65" fill="#c0c0c0"/>
<rect x="869" y="643" width="1" height="57" fill="#c0c0c0"/>
<rect x="877" y="649" width="1" height="51" fill="#c0c0c0"/>
<rect x="885" y="657" width="1" height="43" fill="#c0c0c0"/>
<rect x="893" y="660" width="1" height="40" fill="#c0c0c0"/>
<rect x="901" y="664" width="1" height="36" fill="#c0c0c0"/>
<rect x="909" y="665" width="1" height="35" fill="#c0c0c0"/>
<rect x="917" y="668" width="1" height="32" fill="#c0c0c0"/>
<rect x="925" y="671" width="1" height="29" fill="#c0c0c0"/>
<rect x="933" y="673" width="1" height="27" fill="#c0c0c0"/>
<rect x="941" y="675" width="1" height="25" fill="#c0c0c0"/>
<rect x="949" y="680" width="1" height="20" fill="#c0c0c0"/>
<rect x="957" y="684" width="1" height="16" fill="#c0c0c0"/>
<rect x="965" y="687" width="1" height="13" fill="#c0c0c0"/>
<rect x="973" y="690" width="1" height="10" fill="#c0c0c0"/>
<rect x="981" y="693" width="1" height="7" fill="#c0c0c0"/>
<rect x="989" y="695" width="1" height="5" fill="#c0c0c0"/>
<rect x="997" y="697" width="1" height="3" fill="#c0c0c0"/>
<rect x="1005" y="696" width="1" height="4" fill="#c0c0c0"/>
<rect x="1013" y="694" width="1" height="6" fill="#c0c0c0"/>
<rect x="1021" y="695" width="1" height="5" fill="#c0c0c0"/>
<rect x="1029" y="696" width="1" height="4" fill="#c0c0c0"/>
<rect x="1037" y="695" width="1" height="5" fill="#c0c0c0"/>
<rect x="1045" y="693" width="1" height="7" fill="#c0c0c0"/>
<rect x="1053" y="692" width="1" height="8" fill="#c0c0c0"/>
<rect x="1061" y="694" width="1" height="6" fill="#c0c0c0"/>
<rect x="1069" y="693" width="1" height="7" fill="#c0c0c0"/>
<rect x="1077" y="693" width="1" height="7" fill="#c0c0c0"/>
<rect x="1085" y="694" width="1" height="6" fill="#c0c0c0"/>
<rect x="1093" y="697" width="1" height="3" fill="#c0c0c0"/>
<rect x="1101" y="699" width="1" height="1" fill="#c0c0c0"/>
<rect x="1109" y="699" width="1" height="1" fill="#c0c0c0"/>
<rect x="1125" y="699" width="1" height="1" fill="#c0c0c0"/>
<rect x="1133" y="699" width="1" height="1" fill="#c0c0c0"/>
<rect x="1141" y="699" width="1" height="1" fill="#c0c0c0"/>
<rect x="1149" y="699" width="1" height="1" fill="#c0c0c0"/>
<rect x="1157" y="699" width="1" height="1" fill="#c0c0c0"/>
<rect x="1165" y="699" width="1" height="1" fill="#c0c0c0"/>
<rect x="1173" y="699" width="1" height="3" fill="#c0c0c0"/>
<rect x="1181" y="699" width="1" height="1" fill="#c0c0c0"/>
<rect x="1189" y="699" width="1" height="1" fill="#c0c0c0"/>
<rect x="1197" y="699" width="1" height="1" fill="#c0c0c0"/>
<rect x="1205" y="699" width="1" height="1" fill="#c0c0c0"/>
<polyline points="5.0,695.5 50.0,692.6 96.0,692.6 105.0,693.4 117.0,694.4 120.0,694.5 136.7,695.3 153.3,696.7 166.7,698.3 181.7,699.5 195.0,700.8 213.3,702.2 236.7,703.3 261.7,704.5 278.3,705.3 295.0,707.5 311.7,709.5 333.3,711.3 350.0,711.3 366.7,710.0 380.0,708.7 386.7,707.8 403.3,706.7 420.0,705.0 436.7,703.7 453.3,701.3 470.0,699.5 486.7,697.0 503.3,695.3 520.0,692.0 536.7,690.3 553.3,688.7 561.7,687.5 603.3,687.5 616.7,688.7 623.3,689.5 641.7,692.0 661.7,693.3 691.7,693.3 703.3,692.3 720.0,690.8 736.7,689.5 753.3,687.8 763.3,685.3 773.3,683.3 786.7,679.5 796.7,675.3 808.3,669.5 821.7,660.8 835.0,652.8 846.7,647.0 856.7,642.0 866.7,638.7 876.7,637.3 883.3,638.3 895.0,642.0 911.7,648.7 928.3,657.5 945.0,665.7 961.7,671.7 978.3,678.3 995.0,684.5 1011.7,690.3 1028.3,692.8 1040.0,694.5 1061.7,694.2 1078.3,693.3 1095.0,693.3 1111.7,694.5 1119.2,695.2 1125.6,696.6 1151.2,697.3 1166.6,698.2 1174.3,699.5 1205.0,699.5" fill="none" stroke="#ff0000" stroke-width="1" stroke-dasharray="3 3"/>
<rect x="1521" y="699" width="1" height="1" fill="#000"/>
</g>
<text x="9.00" y="638" font-size="10.2" fill="#000" stroke="#000" stroke-width="0.15" textLength="66.31" lengthAdjust="spacingAndGlyphs">MACD(12,26,9)</text>
<text x="78.26" y="638" font-size="10.2" fill="#000" stroke="#000" stroke-width="0.15" textLength="37.62" lengthAdjust="spacingAndGlyphs">0.000147</text>
<text x="119.06" y="638" font-size="10.2" fill="#000" stroke="#000" stroke-width="0.15" textLength="41.12" lengthAdjust="spacingAndGlyphs">-0.000349</text>
<text x="1523.86" y="636" font-size="10.2" fill="#000" stroke="#000" stroke-width="0.15" textLength="37.91" lengthAdjust="spacingAndGlyphs">0.032493</text>
<text x="1523.86" y="703" font-size="10.2" fill="#000" stroke="#000" stroke-width="0.15" textLength="18.22" lengthAdjust="spacingAndGlyphs">0.00</text>
<text x="1523.66" y="714" font-size="10.2" fill="#000" stroke="#000" stroke-width="0.15" textLength="41.53" lengthAdjust="spacingAndGlyphs">-0.008086</text>
<rect x="5" y="718" width="1" height="3" fill="#000"/>
<text x="3.94" y="730" font-size="10.2" fill="#000" stroke="#000" stroke-width="0.15" textLength="54.50" lengthAdjust="spacingAndGlyphs">21 Nov 2019</text>
<rect x="69" y="718" width="1" height="3" fill="#000"/>
<text x="67.90" y="730" font-size="10.2" fill="#000" stroke="#000" stroke-width="0.15" textLength="54.64" lengthAdjust="spacingAndGlyphs">30 Nov 2019</text>
<rect x="133" y="718" width="1" height="3" fill="#000"/>
<text x="131.37" y="730" font-size="10.2" fill="#000" stroke="#000" stroke-width="0.15" textLength="52.54" lengthAdjust="spacingAndGlyphs">10 Dec 2019</text>
<rect x="197" y="718" width="1" height="3" fill="#000"/>
<text x="195.37" y="730" font-size="10.2" fill="#000" stroke="#000" stroke-width="0.15" textLength="52.54" lengthAdjust="spacingAndGlyphs">19 Dec 2019</text>
<rect x="261" y="718" width="1" height="3" fill="#000"/>
<text x="260.00" y="730" font-size="10.2" fill="#000" stroke="#000" stroke-width="0.15" textLength="52.01" lengthAdjust="spacingAndGlyphs">28 Dec 2019</text>
<rect x="325" y="718" width="1" height="3" fill="#000"/>
<text x="323.88" y="730" font-size="10.2" fill="#000" stroke="#000" stroke-width="0.15" textLength="45.43" lengthAdjust="spacingAndGlyphs">7 Jan 2020</text>
<rect x="389" y="718" width="1" height="3" fill="#000"/>
<text x="387.37" y="730" font-size="10.2" fill="#000" stroke="#000" stroke-width="0.15" textLength="50.88" lengthAdjust="spacingAndGlyphs">16 Jan 2020</text>
<rect x="453" y="718" width="1" height="3" fill="#000"/>
<text x="452.00" y="730" font-size="10.2" fill="#000" stroke="#000" stroke-width="0.15" textLength="50.28" lengthAdjust="spacingAndGlyphs">25 Jan 2020</text>
<rect x="517" y="718" width="1" height="3" fill="#000"/>
<text x="516.06" y="730" font-size="10.2" fill="#000" stroke="#000" stroke-width="0.15" textLength="46.41" lengthAdjust="spacingAndGlyphs">4 Feb 2020</text>
<rect x="581" y="718" width="1" height="3" fill="#000"/>
<text x="579.37" y="730" font-size="10.2" fill="#000" stroke="#000" stroke-width="0.15" textLength="52.86" lengthAdjust="spacingAndGlyphs">13 Feb 2020</text>
<rect x="645" y="718" width="1" height="3" fill="#000"/>
<text x="644.00" y="730" font-size="10.2" fill="#000" stroke="#000" stroke-width="0.15" textLength="51.81" lengthAdjust="spacingAndGlyphs">22 Feb 2020</text>
<rect x="709" y="718" width="1" height="3" fill="#000"/>
<text x="707.91" y="730" font-size="10.2" fill="#000" stroke="#000" stroke-width="0.15" textLength="47.21" lengthAdjust="spacingAndGlyphs">3 Mar 2020</text>
<rect x="773" y="718" width="1" height="3" fill="#000"/>
<text x="771.37" y="730" font-size="10.2" fill="#000" stroke="#000" stroke-width="0.15" textLength="52.65" lengthAdjust="spacingAndGlyphs">12 Mar 2020</text>
<rect x="837" y="718" width="1" height="3" fill="#000"/>
<text x="835.95" y="730" font-size="10.2" fill="#000" stroke="#000" stroke-width="0.15" textLength="52.54" lengthAdjust="spacingAndGlyphs">21 Mar 2020</text>
<rect x="901" y="718" width="1" height="3" fill="#000"/>
<text x="899.91" y="730" font-size="10.2" fill="#000" stroke="#000" stroke-width="0.15" textLength="51.99" lengthAdjust="spacingAndGlyphs">31 Mar 2020</text>
<rect x="965" y="718" width="1" height="3" fill="#000"/>
<text x="963.94" y="730" font-size="10.2" fill="#000" stroke="#000" stroke-width="0.15" textLength="46.37" lengthAdjust="spacingAndGlyphs">9 Apr 2020</text>
<rect x="1029" y="718" width="1" height="3" fill="#000"/>
<text x="1027.37" y="730" font-size="10.2" fill="#000" stroke="#000" stroke-width="0.15" textLength="51.55" lengthAdjust="spacingAndGlyphs">18 Apr 2020</text>
<rect x="1093" y="718" width="1" height="3" fill="#000"/>
<text x="1091.94" y="730" font-size="10.2" fill="#000" stroke="#000" stroke-width="0.15" textLength="51.10" lengthAdjust="spacingAndGlyphs">28 Apr 2020</text>
<rect x="1157" y="718" width="1" height="3" fill="#000"/>
<text x="1155.84" y="730" font-size="10.2" fill="#000" stroke="#000" stroke-width="0.15" textLength="50.45" lengthAdjust="spacingAndGlyphs">7 May 2020</text>
<rect x="0" y="738" width="1561" height="1" fill="#e3e3e3"/>
<rect x="0" y="739" width="1561" height="1" fill="#ffffff"/>
<rect x="0" y="740" width="1561" height="1" fill="#000"/>
<rect x="0" y="741" width="1561" height="1" fill="#ffffff"/>
<rect x="0" y="742" width="1561" height="18" fill="#f0f0f0"/>
<rect x="0" y="760" width="1561" height="1" fill="#ffffff"/>
<rect x="0" y="761" width="1561" height="3" fill="#f0f0f0"/>
<rect x="0" y="741" width="1" height="19" fill="#a0a0a0"/>
<rect x="1" y="741" width="1" height="19" fill="#696969"/>
<rect x="315" y="739" width="102" height="19" fill="#ffffff"/>
<rect x="314" y="740" width="1" height="19" fill="#000"/>
<rect x="417" y="740" width="1" height="19" fill="#000"/>
<rect x="418" y="741" width="1" height="18" fill="#fff"/>
<rect x="314" y="758" width="104" height="1" fill="#000"/>
<text x="17.50" y="755" font-size="12.6" fill="#6e6e6e" textLength="80.71" lengthAdjust="spacingAndGlyphs">EURUSD,Daily</text>
<text x="119.50" y="755" font-size="12.6" fill="#6e6e6e" textLength="79.96" lengthAdjust="spacingAndGlyphs">USDCHF,Daily</text>
<text x="221.66" y="755" font-size="12.6" fill="#6e6e6e" textLength="81.89" lengthAdjust="spacingAndGlyphs">AUDUSD,Daily</text>
<text x="324.50" y="755" font-size="12.6" fill="#000" textLength="81.74" lengthAdjust="spacingAndGlyphs">USDCAD,Daily</text>
<text x="427.20" y="755" font-size="12.6" fill="#6e6e6e" textLength="84.10" lengthAdjust="spacingAndGlyphs">USDCNH,Daily</text>
<text x="533.10" y="755" font-size="12.6" fill="#6e6e6e" textLength="81.43" lengthAdjust="spacingAndGlyphs">EURUSD,Daily</text>
<text x="637.97" y="755" font-size="12.6" fill="#6e6e6e" textLength="68.34" lengthAdjust="spacingAndGlyphs">GBPUSD,H4</text>
<text x="728.96" y="755" font-size="12.6" fill="#6e6e6e" textLength="68.64" lengthAdjust="spacingAndGlyphs">XAUUSD,H4</text>
<text x="820.30" y="755" font-size="12.6" fill="#6e6e6e" textLength="50.97" lengthAdjust="spacingAndGlyphs">HK50,H1</text>
<text x="892.60" y="755" font-size="12.6" fill="#6e6e6e" textLength="57.24" lengthAdjust="spacingAndGlyphs">UK100,H1</text>
<text x="972.60" y="755" font-size="12.6" fill="#6e6e6e" textLength="57.24" lengthAdjust="spacingAndGlyphs">UK100,H1</text>
<text x="1052.77" y="755" font-size="12.6" fill="#6e6e6e" textLength="57.03" lengthAdjust="spacingAndGlyphs">GER30,H1</text>
<text x="1131.60" y="755" font-size="12.6" fill="#6e6e6e" textLength="55.19" lengthAdjust="spacingAndGlyphs">FRA40,H1</text>
<text x="1207.40" y="755" font-size="12.6" fill="#6e6e6e" textLength="51.50" lengthAdjust="spacingAndGlyphs">USOil,H1</text>
<text x="1279.70" y="755" font-size="12.6" fill="#6e6e6e" textLength="63.04" lengthAdjust="spacingAndGlyphs">USDJPY,H1</text>
<text x="1363.80" y="755" font-size="12.6" fill="#6e6e6e" textLength="47.07" lengthAdjust="spacingAndGlyphs">DJ30,H1</text>
<rect x="110" y="743" width="1" height="14" fill="#505050"/>
<rect x="210" y="743" width="1" height="14" fill="#505050"/>
<rect x="522" y="743" width="1" height="14" fill="#505050"/>
<rect x="626" y="743" width="1" height="14" fill="#505050"/>
<rect x="718" y="743" width="1" height="14" fill="#505050"/>
<rect x="810" y="743" width="1" height="14" fill="#505050"/>
<rect x="882" y="743" width="1" height="14" fill="#505050"/>
<rect x="962" y="743" width="1" height="14" fill="#505050"/>
<rect x="1042" y="743" width="1" height="14" fill="#505050"/>
<rect x="1122" y="743" width="1" height="14" fill="#505050"/>
<rect x="1198" y="743" width="1" height="14" fill="#505050"/>
<rect x="1270" y="743" width="1" height="14" fill="#505050"/>
<rect x="1354" y="743" width="1" height="14" fill="#505050"/>
<rect x="1422" y="743" width="1" height="14" fill="#505050"/>
<polygon points="1539.2,745.8 1539.2,752.2 1536,749" fill="#8c8c8c"/>
<polygon points="1555,745.8 1555,752.2 1558.2,749" fill="#8c8c8c"/>
</svg>
</body></html>
